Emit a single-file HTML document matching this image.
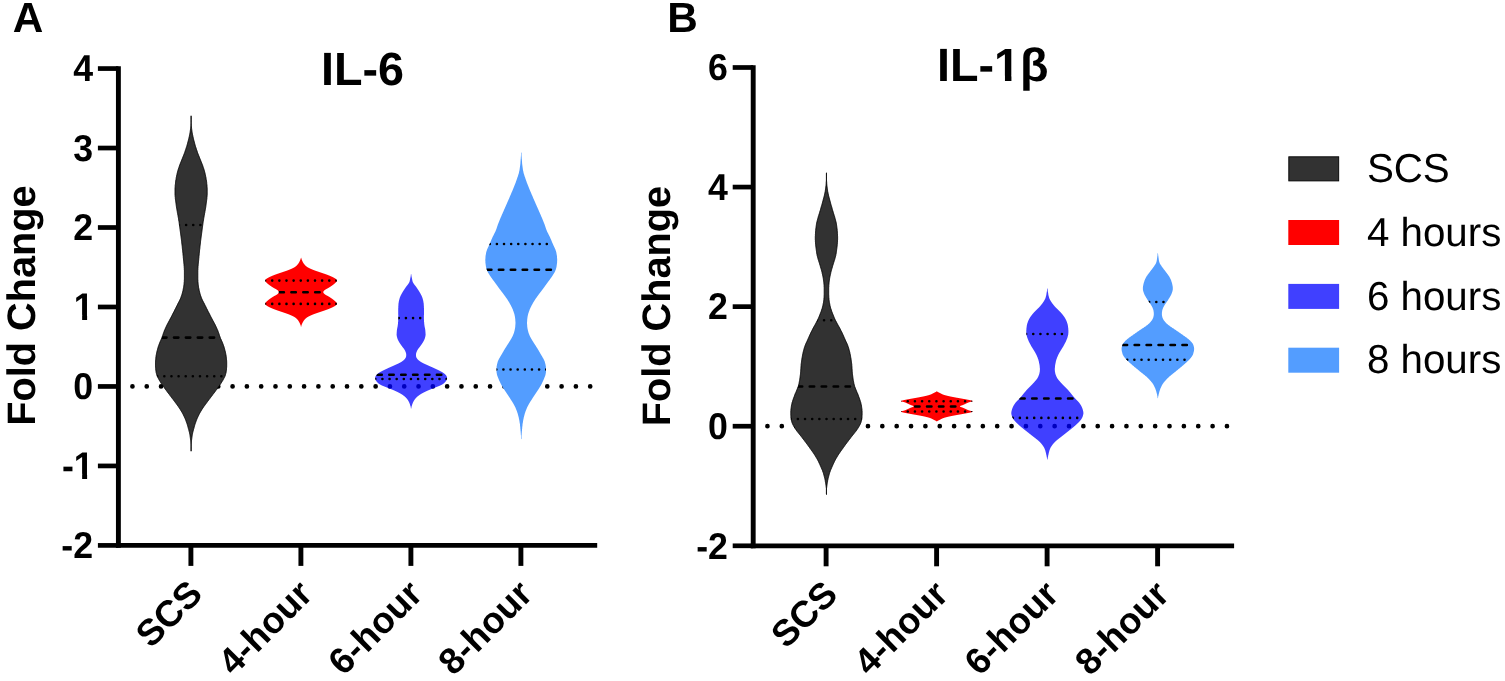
<!DOCTYPE html>
<html lang="en">
<head>
<meta charset="utf-8">
<title>IL-6 and IL-1β fold change violin plots</title>
<style>
html,body{margin:0;padding:0;background:#fff;}
body{width:1505px;height:681px;overflow:hidden;font-family:"Liberation Sans", sans-serif;}
svg{display:block;}
</style>
</head>
<body>
<svg role="img" aria-label="Violin plots of IL-6 and IL-1β fold change for SCS, 4-hour, 6-hour and 8-hour groups" width="1505" height="681" viewBox="0 0 1505 681" font-family='"Liberation Sans", sans-serif' text-rendering="geometricPrecision">
<rect width="1505" height="681" fill="#fff"/>
<g id="panelA">
<clipPath id="oneA"><path d="M-70,-45H6V-4.72H-6.91V3H-12.10V-4.72H-70Z"/></clipPath>
<line x1="132.44" y1="386.45" x2="590.7" y2="386.45" stroke="#000" stroke-width="4.7" stroke-linecap="round" stroke-dasharray="0 14.305"/>
<path id="vA1" d="M191.1,115.8L191.0,116.5L191.0,117.3L191.0,118.0L191.0,118.8L191.0,119.5L191.0,120.3L191.0,121.0L191.0,121.8L191.0,122.5L191.0,123.3L191.0,124.0L190.9,124.8L190.9,125.5L190.8,126.3L190.8,127.0L190.7,127.8L190.6,128.6L190.5,129.3L190.4,130.1L190.3,130.8L190.2,131.6L190.1,132.3L190.0,133.1L189.8,133.8L189.7,134.6L189.5,135.3L189.4,136.1L189.2,136.8L189.0,137.6L188.9,138.3L188.7,139.1L188.5,139.8L188.3,140.6L188.1,141.3L187.9,142.1L187.7,142.8L187.5,143.6L187.3,144.3L187.1,145.1L186.9,145.8L186.7,146.6L186.4,147.3L186.2,148.1L185.9,148.8L185.7,149.6L185.4,150.3L185.2,151.1L184.9,151.8L184.7,152.6L184.4,153.3L184.1,154.1L183.8,154.8L183.5,155.6L183.2,156.3L182.9,157.1L182.6,157.8L182.3,158.6L182.0,159.3L181.7,160.1L181.4,160.8L181.1,161.6L180.8,162.3L180.5,163.1L180.2,163.8L179.9,164.6L179.6,165.3L179.4,166.1L179.1,166.8L178.9,167.6L178.6,168.3L178.4,169.1L178.1,169.8L177.9,170.6L177.7,171.3L177.5,172.1L177.3,172.8L177.1,173.6L177.0,174.3L176.8,175.1L176.6,175.8L176.5,176.6L176.3,177.3L176.2,178.1L176.1,178.8L176.0,179.6L175.8,180.3L175.7,181.1L175.6,181.8L175.5,182.6L175.5,183.3L175.4,184.1L175.3,184.8L175.2,185.6L175.2,186.3L175.1,187.1L175.1,187.8L175.0,188.6L175.0,189.3L175.0,190.1L175.0,190.8L175.0,191.6L175.0,192.3L175.0,193.1L175.0,193.8L175.0,194.6L175.1,195.3L175.1,196.1L175.2,196.8L175.3,197.6L175.3,198.3L175.4,199.1L175.5,199.8L175.6,200.6L175.7,201.3L175.8,202.1L175.9,202.8L176.0,203.6L176.1,204.3L176.2,205.1L176.3,205.8L176.4,206.6L176.5,207.3L176.6,208.1L176.8,208.8L176.9,209.6L177.0,210.3L177.2,211.1L177.3,211.8L177.4,212.6L177.6,213.3L177.7,214.1L177.8,214.8L178.0,215.6L178.1,216.3L178.2,217.1L178.4,217.8L178.5,218.6L178.6,219.3L178.7,220.1L178.8,220.8L179.0,221.6L179.1,222.3L179.2,223.1L179.3,223.8L179.4,224.6L179.5,225.3L179.6,226.1L179.7,226.8L179.8,227.6L179.9,228.3L180.0,229.1L180.1,229.8L180.2,230.6L180.3,231.3L180.4,232.1L180.5,232.8L180.6,233.6L180.7,234.3L180.8,235.1L180.9,235.8L181.0,236.6L181.1,237.3L181.2,238.1L181.3,238.8L181.4,239.6L181.5,240.3L181.6,241.1L181.7,241.8L181.7,242.6L181.8,243.3L181.9,244.1L182.0,244.8L182.1,245.6L182.2,246.3L182.3,247.1L182.3,247.8L182.4,248.6L182.5,249.3L182.6,250.1L182.7,250.8L182.7,251.6L182.8,252.3L182.9,253.1L183.0,253.8L183.0,254.6L183.1,255.3L183.2,256.1L183.3,256.8L183.3,257.6L183.4,258.3L183.5,259.1L183.5,259.8L183.6,260.6L183.7,261.3L183.8,262.1L183.8,262.8L183.9,263.6L184.0,264.3L184.0,265.1L184.1,265.8L184.2,266.6L184.2,267.3L184.3,268.1L184.3,268.8L184.3,269.6L184.4,270.3L184.4,271.1L184.4,271.8L184.4,272.6L184.4,273.3L184.4,274.1L184.4,274.8L184.4,275.6L184.4,276.3L184.4,277.1L184.4,277.8L184.4,278.6L184.4,279.3L184.3,280.1L184.3,280.8L184.3,281.6L184.2,282.3L184.1,283.1L184.1,283.8L184.0,284.6L183.9,285.3L183.8,286.1L183.7,286.8L183.6,287.6L183.4,288.3L183.3,289.1L183.1,289.8L183.0,290.6L182.8,291.3L182.6,292.1L182.4,292.8L182.2,293.6L182.0,294.3L181.8,295.1L181.5,295.8L181.2,296.6L181.0,297.3L180.7,298.1L180.4,298.8L180.0,299.6L179.7,300.3L179.3,301.1L178.9,301.8L178.5,302.6L178.1,303.3L177.7,304.1L177.4,304.8L177.0,305.6L176.6,306.3L176.2,307.1L175.9,307.8L175.5,308.6L175.1,309.3L174.7,310.1L174.4,310.8L174.0,311.6L173.6,312.3L173.2,313.1L172.8,313.8L172.4,314.6L172.1,315.3L171.7,316.1L171.3,316.8L170.9,317.6L170.5,318.3L170.1,319.1L169.7,319.8L169.3,320.6L168.9,321.3L168.5,322.1L168.1,322.8L167.7,323.6L167.3,324.3L166.9,325.1L166.6,325.8L166.2,326.6L165.9,327.3L165.5,328.1L165.2,328.8L164.9,329.6L164.5,330.3L164.2,331.1L164.0,331.8L163.7,332.6L163.4,333.3L163.2,334.1L162.9,334.8L162.7,335.6L162.4,336.3L162.1,337.1L161.9,337.8L161.6,338.6L161.2,339.3L160.9,340.1L160.6,340.8L160.2,341.6L159.9,342.3L159.6,343.1L159.3,343.8L159.0,344.6L158.8,345.3L158.5,346.1L158.2,346.8L158.0,347.6L157.8,348.3L157.6,349.1L157.4,349.8L157.2,350.6L157.0,351.3L156.8,352.1L156.7,352.8L156.5,353.6L156.4,354.3L156.2,355.1L156.1,355.8L156.0,356.6L155.9,357.3L155.8,358.1L155.8,358.8L155.7,359.6L155.6,360.3L155.6,361.1L155.5,361.8L155.5,362.6L155.5,363.3L155.5,364.1L155.5,364.8L155.5,365.6L155.5,366.3L155.6,367.1L155.6,367.8L155.7,368.6L155.7,369.3L155.8,370.1L155.9,370.8L156.0,371.6L156.1,372.3L156.3,373.1L156.5,373.8L156.7,374.6L156.9,375.3L157.2,376.1L157.5,376.8L157.9,377.6L158.3,378.3L158.7,379.1L159.1,379.8L159.5,380.6L160.0,381.3L160.4,382.1L160.9,382.8L161.4,383.6L161.9,384.3L162.4,385.1L162.9,385.8L163.4,386.6L164.0,387.3L164.5,388.1L165.0,388.8L165.6,389.6L166.2,390.3L166.7,391.1L167.3,391.8L167.8,392.6L168.4,393.3L169.0,394.1L169.6,394.8L170.1,395.6L170.7,396.3L171.3,397.1L171.8,397.8L172.4,398.6L173.0,399.3L173.5,400.1L174.1,400.8L174.7,401.6L175.2,402.3L175.8,403.1L176.3,403.8L176.9,404.6L177.4,405.3L178.0,406.1L178.5,406.8L179.0,407.6L179.5,408.3L180.0,409.1L180.5,409.8L180.9,410.6L181.4,411.3L181.8,412.1L182.3,412.8L182.7,413.6L183.1,414.3L183.4,415.1L183.8,415.8L184.2,416.6L184.5,417.3L184.9,418.1L185.2,418.8L185.5,419.6L185.8,420.3L186.1,421.1L186.3,421.8L186.6,422.6L186.9,423.3L187.1,424.1L187.4,424.8L187.6,425.6L187.8,426.3L188.0,427.1L188.2,427.8L188.4,428.6L188.7,429.3L188.8,430.1L189.0,430.8L189.2,431.6L189.4,432.3L189.6,433.1L189.7,433.8L189.9,434.6L190.0,435.3L190.1,436.1L190.2,436.8L190.3,437.6L190.4,438.3L190.5,439.1L190.6,439.8L190.7,440.6L190.8,441.3L190.8,442.1L190.9,442.8L190.9,443.6L191.0,444.3L191.0,445.1L191.0,445.8L191.0,446.6L191.0,447.3L191.0,448.1L191.0,448.8L191.0,449.6L191.0,450.3L191.0,451.1L191.1,451.2L191.1,451.2L191.2,451.1L191.2,450.3L191.2,449.6L191.2,448.8L191.2,448.1L191.2,447.3L191.2,446.6L191.2,445.8L191.2,445.1L191.2,444.3L191.3,443.6L191.3,442.8L191.4,442.1L191.4,441.3L191.5,440.6L191.6,439.8L191.7,439.1L191.8,438.3L191.9,437.6L192.0,436.8L192.1,436.1L192.2,435.3L192.3,434.6L192.5,433.8L192.6,433.1L192.8,432.3L193.0,431.6L193.2,430.8L193.4,430.1L193.5,429.3L193.8,428.6L194.0,427.8L194.2,427.1L194.4,426.3L194.6,425.6L194.8,424.8L195.1,424.1L195.3,423.3L195.6,422.6L195.9,421.8L196.1,421.1L196.4,420.3L196.7,419.6L197.0,418.8L197.3,418.1L197.7,417.3L198.0,416.6L198.4,415.8L198.8,415.1L199.1,414.3L199.5,413.6L199.9,412.8L200.4,412.1L200.8,411.3L201.3,410.6L201.7,409.8L202.2,409.1L202.7,408.3L203.2,407.6L203.7,406.8L204.2,406.1L204.8,405.3L205.3,404.6L205.9,403.8L206.4,403.1L207.0,402.3L207.5,401.6L208.1,400.8L208.7,400.1L209.2,399.3L209.8,398.6L210.4,397.8L210.9,397.1L211.5,396.3L212.1,395.6L212.6,394.8L213.2,394.1L213.8,393.3L214.4,392.6L214.9,391.8L215.5,391.1L216.0,390.3L216.6,389.6L217.2,388.8L217.7,388.1L218.2,387.3L218.8,386.6L219.3,385.8L219.8,385.1L220.3,384.3L220.8,383.6L221.3,382.8L221.8,382.1L222.2,381.3L222.7,380.6L223.1,379.8L223.5,379.1L223.9,378.3L224.3,377.6L224.7,376.8L225.0,376.1L225.3,375.3L225.5,374.6L225.7,373.8L225.9,373.1L226.1,372.3L226.2,371.6L226.3,370.8L226.4,370.1L226.5,369.3L226.5,368.6L226.6,367.8L226.6,367.1L226.7,366.3L226.7,365.6L226.7,364.8L226.7,364.1L226.7,363.3L226.7,362.6L226.7,361.8L226.6,361.1L226.6,360.3L226.5,359.6L226.4,358.8L226.4,358.1L226.3,357.3L226.2,356.6L226.1,355.8L226.0,355.1L225.8,354.3L225.7,353.6L225.5,352.8L225.4,352.1L225.2,351.3L225.0,350.6L224.8,349.8L224.6,349.1L224.4,348.3L224.2,347.6L224.0,346.8L223.7,346.1L223.4,345.3L223.2,344.6L222.9,343.8L222.6,343.1L222.3,342.3L222.0,341.6L221.6,340.8L221.3,340.1L221.0,339.3L220.6,338.6L220.3,337.8L220.1,337.1L219.8,336.3L219.5,335.6L219.3,334.8L219.0,334.1L218.8,333.3L218.5,332.6L218.2,331.8L218.0,331.1L217.7,330.3L217.3,329.6L217.0,328.8L216.7,328.1L216.3,327.3L216.0,326.6L215.6,325.8L215.3,325.1L214.9,324.3L214.5,323.6L214.1,322.8L213.7,322.1L213.3,321.3L212.9,320.6L212.5,319.8L212.1,319.1L211.7,318.3L211.3,317.6L210.9,316.8L210.5,316.1L210.1,315.3L209.8,314.6L209.4,313.8L209.0,313.1L208.6,312.3L208.2,311.6L207.8,310.8L207.5,310.1L207.1,309.3L206.7,308.6L206.3,307.8L206.0,307.1L205.6,306.3L205.2,305.6L204.8,304.8L204.5,304.1L204.1,303.3L203.7,302.6L203.3,301.8L202.9,301.1L202.5,300.3L202.2,299.6L201.8,298.8L201.5,298.1L201.2,297.3L201.0,296.6L200.7,295.8L200.4,295.1L200.2,294.3L200.0,293.6L199.8,292.8L199.6,292.1L199.4,291.3L199.2,290.6L199.1,289.8L198.9,289.1L198.8,288.3L198.6,287.6L198.5,286.8L198.4,286.1L198.3,285.3L198.2,284.6L198.1,283.8L198.1,283.1L198.0,282.3L197.9,281.6L197.9,280.8L197.9,280.1L197.8,279.3L197.8,278.6L197.8,277.8L197.8,277.1L197.8,276.3L197.8,275.6L197.8,274.8L197.8,274.1L197.8,273.3L197.8,272.6L197.8,271.8L197.8,271.1L197.8,270.3L197.9,269.6L197.9,268.8L197.9,268.1L198.0,267.3L198.0,266.6L198.1,265.8L198.2,265.1L198.2,264.3L198.3,263.6L198.4,262.8L198.4,262.1L198.5,261.3L198.6,260.6L198.7,259.8L198.7,259.1L198.8,258.3L198.9,257.6L198.9,256.8L199.0,256.1L199.1,255.3L199.2,254.6L199.2,253.8L199.3,253.1L199.4,252.3L199.5,251.6L199.5,250.8L199.6,250.1L199.7,249.3L199.8,248.6L199.9,247.8L199.9,247.1L200.0,246.3L200.1,245.6L200.2,244.8L200.3,244.1L200.4,243.3L200.5,242.6L200.5,241.8L200.6,241.1L200.7,240.3L200.8,239.6L200.9,238.8L201.0,238.1L201.1,237.3L201.2,236.6L201.3,235.8L201.4,235.1L201.5,234.3L201.6,233.6L201.7,232.8L201.8,232.1L201.9,231.3L202.0,230.6L202.1,229.8L202.2,229.1L202.3,228.3L202.4,227.6L202.5,226.8L202.6,226.1L202.7,225.3L202.8,224.6L202.9,223.8L203.0,223.1L203.1,222.3L203.2,221.6L203.4,220.8L203.5,220.1L203.6,219.3L203.7,218.6L203.8,217.8L204.0,217.1L204.1,216.3L204.2,215.6L204.4,214.8L204.5,214.1L204.6,213.3L204.8,212.6L204.9,211.8L205.0,211.1L205.2,210.3L205.3,209.6L205.4,208.8L205.6,208.1L205.7,207.3L205.8,206.6L205.9,205.8L206.0,205.1L206.1,204.3L206.2,203.6L206.3,202.8L206.4,202.1L206.5,201.3L206.6,200.6L206.7,199.8L206.8,199.1L206.9,198.3L206.9,197.6L207.0,196.8L207.1,196.1L207.1,195.3L207.2,194.6L207.2,193.8L207.2,193.1L207.2,192.3L207.2,191.6L207.2,190.8L207.2,190.1L207.2,189.3L207.2,188.6L207.1,187.8L207.1,187.1L207.0,186.3L207.0,185.6L206.9,184.8L206.8,184.1L206.7,183.3L206.7,182.6L206.6,181.8L206.5,181.1L206.4,180.3L206.2,179.6L206.1,178.8L206.0,178.1L205.9,177.3L205.7,176.6L205.6,175.8L205.4,175.1L205.2,174.3L205.1,173.6L204.9,172.8L204.7,172.1L204.5,171.3L204.3,170.6L204.1,169.8L203.8,169.1L203.6,168.3L203.3,167.6L203.1,166.8L202.8,166.1L202.6,165.3L202.3,164.6L202.0,163.8L201.7,163.1L201.4,162.3L201.1,161.6L200.8,160.8L200.5,160.1L200.2,159.3L199.9,158.6L199.6,157.8L199.3,157.1L199.0,156.3L198.7,155.6L198.4,154.8L198.1,154.1L197.8,153.3L197.5,152.6L197.3,151.8L197.0,151.1L196.8,150.3L196.5,149.6L196.3,148.8L196.0,148.1L195.8,147.3L195.5,146.6L195.3,145.8L195.1,145.1L194.9,144.3L194.7,143.6L194.5,142.8L194.3,142.1L194.1,141.3L193.9,140.6L193.7,139.8L193.5,139.1L193.3,138.3L193.2,137.6L193.0,136.8L192.8,136.1L192.7,135.3L192.5,134.6L192.4,133.8L192.2,133.1L192.1,132.3L192.0,131.6L191.9,130.8L191.8,130.1L191.7,129.3L191.6,128.6L191.5,127.8L191.4,127.0L191.4,126.3L191.3,125.5L191.3,124.8L191.2,124.0L191.2,123.3L191.2,122.5L191.2,121.8L191.2,121.0L191.2,120.3L191.2,119.5L191.2,118.8L191.2,118.0L191.2,117.3L191.2,116.5L191.1,115.8Z" fill="#323232" fill-opacity="1" stroke="#000000" stroke-width="0.9" stroke-linejoin="round"/>
<clipPath id="cvA1"><use href="#vA1"/></clipPath>
<line x1="179.00" y1="224.95" x2="203.8" y2="224.95" clip-path="url(#cvA1)" stroke="#000" stroke-width="2.6" stroke-linecap="round" stroke-dasharray="0 7.13"/>
<line x1="162.10" y1="337.60" x2="219.4" y2="337.60" clip-path="url(#cvA1)" stroke="#000" stroke-width="2.6" stroke-linecap="round" stroke-dasharray="4.40 7.50"/>
<line x1="157.20" y1="376.20" x2="226.0" y2="376.20" clip-path="url(#cvA1)" stroke="#000" stroke-width="2.6" stroke-linecap="round" stroke-dasharray="0 7.13"/>
<path id="vA2" d="M301.1,257.8L300.8,258.1L300.8,258.3L300.8,258.6L300.7,258.8L300.6,259.1L300.5,259.3L300.4,259.6L300.3,259.8L300.2,260.1L300.1,260.3L300.0,260.6L299.9,260.8L299.8,261.1L299.7,261.3L299.5,261.6L299.4,261.8L299.3,262.1L299.2,262.3L299.0,262.6L298.9,262.8L298.7,263.1L298.6,263.3L298.4,263.6L298.2,263.8L298.0,264.1L297.8,264.3L297.6,264.6L297.4,264.8L297.2,265.1L297.0,265.3L296.7,265.6L296.5,265.8L296.2,266.1L295.9,266.3L295.6,266.6L295.2,266.8L294.9,267.1L294.5,267.3L294.1,267.6L293.6,267.8L293.1,268.1L292.6,268.3L292.1,268.6L291.6,268.8L291.0,269.1L290.4,269.3L289.8,269.6L289.2,269.8L288.6,270.1L287.9,270.3L287.3,270.6L286.6,270.8L285.9,271.1L285.1,271.3L284.4,271.6L283.6,271.8L282.9,272.1L282.2,272.3L281.4,272.6L280.7,272.8L279.9,273.1L279.2,273.3L278.5,273.6L277.7,273.8L277.0,274.1L276.3,274.3L275.6,274.6L274.9,274.8L274.3,275.1L273.7,275.3L273.0,275.6L272.4,275.8L271.8,276.1L271.3,276.3L270.7,276.6L270.1,276.8L269.6,277.1L269.1,277.3L268.6,277.6L268.2,277.8L267.7,278.1L267.3,278.3L266.9,278.6L266.5,278.8L266.2,279.1L265.9,279.3L265.7,279.6L265.5,279.8L265.3,280.1L265.2,280.3L265.2,280.6L265.2,280.8L265.2,281.1L265.4,281.3L265.5,281.6L265.7,281.8L265.9,282.1L266.1,282.3L266.4,282.6L266.6,282.8L266.9,283.1L267.1,283.3L267.4,283.6L267.7,283.8L268.0,284.1L268.3,284.3L268.6,284.6L269.0,284.8L269.3,285.1L269.6,285.3L270.0,285.6L270.3,285.8L270.7,286.1L271.1,286.3L271.4,286.6L271.8,286.8L272.2,287.1L272.6,287.3L273.0,287.6L273.4,287.8L273.8,288.1L274.3,288.3L274.7,288.6L275.2,288.8L275.7,289.1L276.1,289.3L276.5,289.6L276.9,289.8L277.3,290.1L277.6,290.3L277.9,290.6L278.1,290.8L278.3,291.1L278.5,291.3L278.7,291.6L278.8,291.8L278.8,292.1L278.8,292.3L278.8,292.6L278.7,292.8L278.5,293.1L278.4,293.3L278.1,293.6L277.9,293.8L277.6,294.1L277.3,294.3L277.0,294.6L276.6,294.8L276.2,295.1L275.8,295.3L275.3,295.6L274.8,295.8L274.3,296.1L273.9,296.3L273.5,296.6L273.0,296.8L272.6,297.1L272.3,297.3L271.9,297.6L271.5,297.8L271.1,298.1L270.8,298.3L270.4,298.6L270.0,298.8L269.7,299.1L269.4,299.3L269.0,299.6L268.7,299.8L268.4,300.1L268.1,300.3L267.8,300.6L267.5,300.8L267.2,301.1L266.9,301.3L266.7,301.6L266.4,301.8L266.2,302.1L265.9,302.3L265.7,302.6L265.5,302.8L265.4,303.1L265.3,303.3L265.2,303.6L265.2,303.8L265.2,304.1L265.3,304.3L265.4,304.6L265.6,304.8L265.9,305.1L266.2,305.3L266.5,305.6L266.8,305.8L267.2,306.1L267.6,306.3L268.1,306.6L268.5,306.8L269.0,307.1L269.5,307.3L270.0,307.6L270.6,307.8L271.1,308.1L271.7,308.3L272.3,308.6L272.9,308.8L273.5,309.1L274.2,309.3L274.8,309.6L275.5,309.8L276.2,310.1L276.9,310.3L277.6,310.6L278.3,310.8L279.1,311.1L279.8,311.3L280.5,311.6L281.3,311.8L282.0,312.1L282.8,312.3L283.5,312.6L284.2,312.8L285.0,313.1L285.7,313.3L286.4,313.6L287.1,313.8L287.8,314.1L288.5,314.3L289.1,314.6L289.7,314.8L290.3,315.1L290.9,315.3L291.4,315.6L292.0,315.8L292.5,316.1L293.0,316.3L293.5,316.6L294.0,316.8L294.4,317.1L294.8,317.3L295.2,317.6L295.5,317.8L295.8,318.1L296.1,318.3L296.4,318.6L296.7,318.8L296.9,319.1L297.2,319.3L297.4,319.6L297.6,319.8L297.8,320.1L298.0,320.3L298.2,320.6L298.4,320.8L298.5,321.1L298.7,321.3L298.8,321.6L299.0,321.8L299.1,322.1L299.3,322.3L299.4,322.6L299.5,322.8L299.6,323.1L299.8,323.3L299.9,323.6L300.0,323.8L300.1,324.1L300.2,324.3L300.3,324.6L300.4,324.8L300.5,325.1L300.6,325.3L300.7,325.6L300.8,325.8L300.8,326.1L300.8,326.3L300.8,326.6L301.1,326.6L301.1,326.6L301.4,326.6L301.4,326.3L301.4,326.1L301.4,325.8L301.4,325.6L301.5,325.3L301.6,325.1L301.7,324.8L301.8,324.6L301.9,324.3L302.0,324.1L302.1,323.8L302.2,323.6L302.3,323.3L302.5,323.1L302.6,322.8L302.7,322.6L302.8,322.3L303.0,322.1L303.1,321.8L303.3,321.6L303.4,321.3L303.6,321.1L303.7,320.8L303.9,320.6L304.1,320.3L304.3,320.1L304.5,319.8L304.7,319.6L304.9,319.3L305.2,319.1L305.4,318.8L305.7,318.6L306.0,318.3L306.3,318.1L306.6,317.8L306.9,317.6L307.3,317.3L307.7,317.1L308.1,316.8L308.6,316.6L309.1,316.3L309.6,316.1L310.1,315.8L310.7,315.6L311.2,315.3L311.8,315.1L312.4,314.8L313.0,314.6L313.6,314.3L314.3,314.1L315.0,313.8L315.7,313.6L316.4,313.3L317.1,313.1L317.9,312.8L318.6,312.6L319.3,312.3L320.1,312.1L320.8,311.8L321.6,311.6L322.3,311.3L323.0,311.1L323.8,310.8L324.5,310.6L325.2,310.3L325.9,310.1L326.6,309.8L327.3,309.6L327.9,309.3L328.6,309.1L329.2,308.8L329.8,308.6L330.4,308.3L331.0,308.1L331.5,307.8L332.1,307.6L332.6,307.3L333.1,307.1L333.6,306.8L334.0,306.6L334.5,306.3L334.9,306.1L335.3,305.8L335.6,305.6L335.9,305.3L336.2,305.1L336.5,304.8L336.7,304.6L336.8,304.3L336.9,304.1L336.9,303.8L336.9,303.6L336.8,303.3L336.7,303.1L336.6,302.8L336.4,302.6L336.2,302.3L335.9,302.1L335.7,301.8L335.4,301.6L335.2,301.3L334.9,301.1L334.6,300.8L334.3,300.6L334.0,300.3L333.7,300.1L333.4,299.8L333.1,299.6L332.7,299.3L332.4,299.1L332.1,298.8L331.7,298.6L331.3,298.3L331.0,298.1L330.6,297.8L330.2,297.6L329.8,297.3L329.5,297.1L329.1,296.8L328.6,296.6L328.2,296.3L327.8,296.1L327.3,295.8L326.8,295.6L326.3,295.3L325.9,295.1L325.5,294.8L325.1,294.6L324.8,294.3L324.5,294.1L324.2,293.8L324.0,293.6L323.7,293.3L323.6,293.1L323.4,292.8L323.3,292.6L323.3,292.3L323.3,292.1L323.3,291.8L323.4,291.6L323.6,291.3L323.8,291.1L324.0,290.8L324.2,290.6L324.5,290.3L324.8,290.1L325.2,289.8L325.6,289.6L326.0,289.3L326.4,289.1L326.9,288.8L327.4,288.6L327.8,288.3L328.3,288.1L328.7,287.8L329.1,287.6L329.5,287.3L329.9,287.1L330.3,286.8L330.7,286.6L331.0,286.3L331.4,286.1L331.8,285.8L332.1,285.6L332.5,285.3L332.8,285.1L333.1,284.8L333.5,284.6L333.8,284.3L334.1,284.1L334.4,283.8L334.7,283.6L335.0,283.3L335.2,283.1L335.5,282.8L335.7,282.6L336.0,282.3L336.2,282.1L336.4,281.8L336.6,281.6L336.7,281.3L336.9,281.1L336.9,280.8L336.9,280.6L336.9,280.3L336.8,280.1L336.6,279.8L336.4,279.6L336.2,279.3L335.9,279.1L335.6,278.8L335.2,278.6L334.8,278.3L334.4,278.1L333.9,277.8L333.5,277.6L333.0,277.3L332.5,277.1L332.0,276.8L331.4,276.6L330.8,276.3L330.3,276.1L329.7,275.8L329.1,275.6L328.4,275.3L327.8,275.1L327.2,274.8L326.5,274.6L325.8,274.3L325.1,274.1L324.4,273.8L323.6,273.6L322.9,273.3L322.2,273.1L321.4,272.8L320.7,272.6L319.9,272.3L319.2,272.1L318.5,271.8L317.7,271.6L317.0,271.3L316.2,271.1L315.5,270.8L314.8,270.6L314.2,270.3L313.5,270.1L312.9,269.8L312.3,269.6L311.7,269.3L311.1,269.1L310.5,268.8L310.0,268.6L309.5,268.3L309.0,268.1L308.5,267.8L308.0,267.6L307.6,267.3L307.2,267.1L306.9,266.8L306.5,266.6L306.2,266.3L305.9,266.1L305.6,265.8L305.4,265.6L305.1,265.3L304.9,265.1L304.7,264.8L304.5,264.6L304.3,264.3L304.1,264.1L303.9,263.8L303.7,263.6L303.5,263.3L303.4,263.1L303.2,262.8L303.1,262.6L302.9,262.3L302.8,262.1L302.7,261.8L302.6,261.6L302.4,261.3L302.3,261.1L302.2,260.8L302.1,260.6L302.0,260.3L301.9,260.1L301.8,259.8L301.7,259.6L301.6,259.3L301.5,259.1L301.4,258.8L301.4,258.6L301.4,258.3L301.4,258.1L301.1,257.8Z" fill="#ff0000" fill-opacity="1"/>
<clipPath id="cvA2"><use href="#vA2"/></clipPath>
<line x1="265.10" y1="280.60" x2="337.5" y2="280.60" clip-path="url(#cvA2)" stroke="#000" stroke-width="2.6" stroke-linecap="round" stroke-dasharray="0 7.13"/>
<line x1="279.50" y1="292.20" x2="322.0" y2="292.20" clip-path="url(#cvA2)" stroke="#000" stroke-width="2.6" stroke-linecap="round" stroke-dasharray="4.40 7.50"/>
<line x1="265.10" y1="303.90" x2="337.5" y2="303.90" clip-path="url(#cvA2)" stroke="#000" stroke-width="2.6" stroke-linecap="round" stroke-dasharray="0 7.13"/>
<path id="vA3" d="M411.1,274.0L410.8,274.8L410.8,275.5L410.7,276.2L410.5,277.0L410.4,277.8L410.2,278.5L410.1,279.2L409.9,280.0L409.8,280.8L409.6,281.5L409.3,282.2L408.9,283.0L408.4,283.8L407.9,284.5L407.3,285.2L406.7,286.0L406.1,286.8L405.6,287.5L405.1,288.2L404.6,289.0L404.1,289.8L403.6,290.5L403.1,291.2L402.7,292.0L402.2,292.8L401.8,293.5L401.4,294.2L401.0,295.0L400.6,295.8L400.3,296.5L400.0,297.2L399.7,298.0L399.5,298.8L399.3,299.5L399.1,300.2L398.9,301.0L398.8,301.8L398.7,302.5L398.5,303.2L398.5,304.0L398.4,304.8L398.4,305.5L398.3,306.2L398.3,307.0L398.3,307.8L398.2,308.5L398.2,309.2L398.2,310.0L398.2,310.8L398.2,311.5L398.2,312.2L398.2,313.0L398.2,313.8L398.2,314.5L398.3,315.2L398.3,316.0L398.3,316.8L398.3,317.5L398.3,318.2L398.3,319.0L398.2,319.8L398.2,320.5L398.2,321.2L398.1,322.0L398.0,322.8L398.0,323.5L397.9,324.2L397.8,325.0L397.7,325.8L397.6,326.5L397.4,327.2L397.3,328.0L397.1,328.8L397.0,329.5L396.9,330.2L396.8,331.0L396.8,331.8L396.7,332.5L396.7,333.2L396.6,334.0L396.6,334.8L396.7,335.5L396.8,336.2L397.0,337.0L397.2,337.8L397.4,338.5L397.7,339.2L398.0,340.0L398.4,340.8L398.8,341.5L399.2,342.2L399.7,343.0L400.2,343.8L400.7,344.5L401.2,345.2L401.8,346.0L402.3,346.8L402.9,347.5L403.5,348.2L404.1,349.0L404.5,349.8L405.0,350.5L405.3,351.2L405.6,352.0L405.9,352.8L406.1,353.5L406.2,354.2L406.2,355.0L406.2,355.8L406.1,356.5L405.9,357.2L405.5,358.0L405.0,358.8L404.4,359.5L403.6,360.2L402.6,361.0L401.6,361.8L400.3,362.5L398.9,363.2L397.3,364.0L395.6,364.8L394.0,365.5L392.3,366.2L390.6,367.0L388.9,367.8L387.3,368.5L385.7,369.2L384.1,370.0L382.6,370.8L381.2,371.5L379.8,372.2L378.7,373.0L377.7,373.8L376.9,374.5L376.2,375.2L375.7,376.0L375.4,376.8L375.2,377.5L375.1,378.2L375.3,379.0L375.5,379.8L375.9,380.5L376.4,381.2L377.0,382.0L377.7,382.8L378.5,383.5L379.6,384.2L380.9,385.0L382.5,385.8L384.4,386.5L386.3,387.2L388.2,388.0L390.1,388.8L391.9,389.5L393.7,390.2L395.4,391.0L397.0,391.8L398.5,392.5L399.9,393.2L401.2,394.0L402.4,394.8L403.4,395.5L404.4,396.2L405.3,397.0L406.0,397.8L406.7,398.5L407.3,399.2L407.8,400.0L408.3,400.8L408.7,401.5L409.1,402.2L409.4,403.0L409.7,403.8L410.0,404.5L410.2,405.2L410.4,406.0L410.7,406.8L410.8,407.5L410.8,408.2L411.1,408.4L411.1,408.4L411.4,408.2L411.4,407.5L411.5,406.8L411.8,406.0L412.0,405.2L412.2,404.5L412.5,403.8L412.8,403.0L413.1,402.2L413.5,401.5L413.9,400.8L414.4,400.0L414.9,399.2L415.5,398.5L416.2,397.8L416.9,397.0L417.8,396.2L418.8,395.5L419.8,394.8L421.0,394.0L422.3,393.2L423.7,392.5L425.2,391.8L426.8,391.0L428.5,390.2L430.3,389.5L432.1,388.8L434.0,388.0L435.9,387.2L437.8,386.5L439.7,385.8L441.3,385.0L442.6,384.2L443.7,383.5L444.5,382.8L445.2,382.0L445.8,381.2L446.3,380.5L446.7,379.8L446.9,379.0L447.1,378.2L447.0,377.5L446.8,376.8L446.5,376.0L446.0,375.2L445.3,374.5L444.5,373.8L443.5,373.0L442.4,372.2L441.0,371.5L439.6,370.8L438.1,370.0L436.5,369.2L434.9,368.5L433.3,367.8L431.6,367.0L429.9,366.2L428.2,365.5L426.6,364.8L424.9,364.0L423.3,363.2L421.9,362.5L420.6,361.8L419.6,361.0L418.6,360.2L417.8,359.5L417.2,358.8L416.7,358.0L416.3,357.2L416.1,356.5L416.0,355.8L416.0,355.0L416.0,354.2L416.1,353.5L416.3,352.8L416.6,352.0L416.9,351.2L417.2,350.5L417.7,349.8L418.1,349.0L418.7,348.2L419.3,347.5L419.9,346.8L420.4,346.0L421.0,345.2L421.5,344.5L422.0,343.8L422.5,343.0L423.0,342.2L423.4,341.5L423.8,340.8L424.2,340.0L424.5,339.2L424.8,338.5L425.0,337.8L425.2,337.0L425.4,336.2L425.5,335.5L425.6,334.8L425.6,334.0L425.5,333.2L425.5,332.5L425.4,331.8L425.4,331.0L425.3,330.2L425.2,329.5L425.1,328.8L424.9,328.0L424.8,327.2L424.6,326.5L424.5,325.8L424.4,325.0L424.3,324.2L424.2,323.5L424.2,322.8L424.1,322.0L424.0,321.2L424.0,320.5L424.0,319.8L423.9,319.0L423.9,318.2L423.9,317.5L423.9,316.8L423.9,316.0L423.9,315.2L424.0,314.5L424.0,313.8L424.0,313.0L424.0,312.2L424.0,311.5L424.0,310.8L424.0,310.0L424.0,309.2L424.0,308.5L423.9,307.8L423.9,307.0L423.9,306.2L423.8,305.5L423.8,304.8L423.7,304.0L423.7,303.2L423.5,302.5L423.4,301.8L423.3,301.0L423.1,300.2L422.9,299.5L422.7,298.8L422.5,298.0L422.2,297.2L421.9,296.5L421.6,295.8L421.2,295.0L420.8,294.2L420.4,293.5L420.0,292.8L419.5,292.0L419.1,291.2L418.6,290.5L418.1,289.8L417.6,289.0L417.1,288.2L416.6,287.5L416.1,286.8L415.5,286.0L414.9,285.2L414.3,284.5L413.8,283.8L413.3,283.0L412.9,282.2L412.6,281.5L412.4,280.8L412.3,280.0L412.1,279.2L412.0,278.5L411.8,277.8L411.7,277.0L411.5,276.2L411.4,275.5L411.4,274.8L411.1,274.0Z" fill="#0000ff" fill-opacity="0.75"/>
<clipPath id="cvA3"><use href="#vA3"/></clipPath>
<line x1="398.80" y1="318.10" x2="424.5" y2="318.10" clip-path="url(#cvA3)" stroke="#000" stroke-width="2.6" stroke-linecap="round" stroke-dasharray="0 7.13"/>
<line x1="377.40" y1="374.70" x2="444.2" y2="374.70" clip-path="url(#cvA3)" stroke="#000" stroke-width="2.6" stroke-linecap="round" stroke-dasharray="4.40 7.50"/>
<line x1="375.30" y1="379.00" x2="447.5" y2="379.00" clip-path="url(#cvA3)" stroke="#000" stroke-width="2.6" stroke-linecap="round" stroke-dasharray="0 7.13"/>
<path id="vA4" d="M521.2,152.2L521.0,152.9L521.0,153.7L521.0,154.4L521.0,155.2L520.9,155.9L520.9,156.7L520.8,157.4L520.8,158.2L520.7,158.9L520.6,159.7L520.6,160.4L520.5,161.2L520.5,161.9L520.4,162.7L520.4,163.4L520.3,164.2L520.2,164.9L520.1,165.7L520.0,166.4L519.9,167.2L519.8,167.9L519.7,168.7L519.6,169.4L519.5,170.2L519.3,170.9L519.1,171.7L519.0,172.4L518.8,173.2L518.6,173.9L518.3,174.7L518.1,175.4L517.9,176.2L517.6,176.9L517.3,177.7L517.1,178.4L516.8,179.2L516.6,179.9L516.3,180.7L516.0,181.4L515.8,182.2L515.5,182.9L515.2,183.7L514.9,184.4L514.6,185.2L514.3,185.9L514.0,186.7L513.7,187.4L513.4,188.2L513.1,188.9L512.8,189.7L512.5,190.4L512.2,191.2L511.8,191.9L511.5,192.7L511.2,193.4L510.9,194.2L510.6,194.9L510.2,195.7L509.9,196.4L509.6,197.2L509.3,197.9L509.0,198.7L508.6,199.4L508.3,200.2L508.0,200.9L507.6,201.7L507.3,202.4L507.0,203.2L506.7,203.9L506.3,204.7L506.0,205.4L505.7,206.2L505.3,206.9L505.0,207.7L504.7,208.4L504.3,209.2L504.0,209.9L503.7,210.7L503.4,211.4L503.0,212.2L502.7,212.9L502.4,213.7L502.0,214.4L501.7,215.2L501.4,215.9L501.1,216.7L500.7,217.4L500.4,218.2L500.1,218.9L499.8,219.7L499.5,220.4L499.2,221.2L498.9,221.9L498.6,222.7L498.3,223.4L498.0,224.2L497.7,224.9L497.5,225.7L497.2,226.4L497.0,227.2L496.7,227.9L496.5,228.7L496.2,229.4L495.9,230.2L495.6,230.9L495.3,231.7L494.9,232.4L494.5,233.2L494.1,233.9L493.8,234.7L493.4,235.4L493.0,236.2L492.6,236.9L492.3,237.7L492.0,238.4L491.6,239.2L491.3,239.9L491.0,240.7L490.7,241.4L490.4,242.2L490.1,242.9L489.7,243.7L489.4,244.4L489.1,245.2L488.7,245.9L488.4,246.7L488.0,247.4L487.7,248.2L487.3,248.9L487.0,249.7L486.8,250.4L486.5,251.2L486.3,251.9L486.1,252.7L486.0,253.4L485.9,254.2L485.7,254.9L485.6,255.7L485.5,256.4L485.5,257.2L485.4,257.9L485.4,258.7L485.3,259.4L485.3,260.2L485.4,260.9L485.4,261.7L485.4,262.4L485.5,263.2L485.6,263.9L485.7,264.7L485.8,265.4L485.9,266.2L486.0,266.9L486.2,267.7L486.4,268.4L486.6,269.2L486.9,269.9L487.2,270.7L487.5,271.4L487.9,272.2L488.3,272.9L488.8,273.7L489.3,274.4L489.7,275.2L490.2,275.9L490.7,276.7L491.2,277.4L491.8,278.2L492.3,278.9L492.8,279.7L493.4,280.4L494.0,281.2L494.5,281.9L495.1,282.7L495.6,283.4L496.2,284.2L496.7,284.9L497.3,285.7L497.8,286.4L498.3,287.2L498.9,287.9L499.4,288.7L500.0,289.4L500.6,290.2L501.1,290.9L501.7,291.7L502.3,292.4L502.9,293.2L503.4,293.9L504.0,294.7L504.5,295.4L505.1,296.2L505.6,296.9L506.1,297.7L506.7,298.4L507.2,299.2L507.7,299.9L508.1,300.7L508.6,301.4L509.1,302.2L509.5,302.9L509.9,303.7L510.3,304.4L510.8,305.2L511.1,305.9L511.5,306.7L511.9,307.4L512.2,308.2L512.6,308.9L512.9,309.7L513.1,310.4L513.4,311.2L513.7,311.9L513.9,312.7L514.2,313.4L514.4,314.2L514.6,314.9L514.7,315.7L514.9,316.4L515.0,317.2L515.1,317.9L515.2,318.7L515.3,319.4L515.3,320.2L515.4,320.9L515.4,321.7L515.5,322.4L515.5,323.2L515.4,323.9L515.4,324.7L515.3,325.4L515.3,326.2L515.2,326.9L515.1,327.7L515.0,328.4L514.8,329.2L514.7,329.9L514.5,330.7L514.3,331.4L514.1,332.2L513.9,332.9L513.6,333.7L513.3,334.4L513.0,335.2L512.7,335.9L512.3,336.7L511.9,337.4L511.5,338.2L511.1,338.9L510.6,339.7L510.2,340.4L509.7,341.2L509.2,341.9L508.8,342.7L508.3,343.4L507.8,344.2L507.3,344.9L506.8,345.7L506.4,346.4L505.9,347.2L505.4,347.9L504.9,348.7L504.5,349.4L504.0,350.2L503.6,350.9L503.2,351.7L502.7,352.4L502.3,353.2L501.9,353.9L501.4,354.7L501.0,355.4L500.5,356.2L500.1,356.9L499.7,357.7L499.2,358.4L498.8,359.2L498.5,359.9L498.1,360.7L497.8,361.4L497.6,362.2L497.4,362.9L497.2,363.7L497.0,364.4L496.9,365.2L496.7,365.9L496.6,366.7L496.6,367.4L496.5,368.2L496.5,368.9L496.5,369.7L496.5,370.4L496.5,371.2L496.6,371.9L496.6,372.7L496.8,373.4L496.9,374.2L497.1,374.9L497.3,375.7L497.6,376.4L497.9,377.2L498.2,377.9L498.5,378.7L498.8,379.4L499.1,380.2L499.5,380.9L499.8,381.7L500.2,382.4L500.5,383.2L500.9,383.9L501.3,384.7L501.7,385.4L502.2,386.2L502.6,386.9L503.1,387.7L503.5,388.4L504.0,389.2L504.5,389.9L505.0,390.7L505.5,391.4L506.0,392.2L506.5,392.9L507.0,393.7L507.5,394.4L508.0,395.2L508.5,395.9L509.0,396.7L509.5,397.4L510.0,398.2L510.4,398.9L510.9,399.7L511.4,400.4L511.9,401.2L512.4,401.9L512.8,402.7L513.3,403.4L513.7,404.2L514.1,404.9L514.5,405.7L514.9,406.4L515.3,407.2L515.6,407.9L515.9,408.7L516.2,409.4L516.5,410.2L516.8,410.9L517.1,411.7L517.3,412.4L517.6,413.2L517.8,413.9L518.0,414.7L518.2,415.4L518.4,416.2L518.6,416.9L518.8,417.7L518.9,418.4L519.1,419.2L519.2,419.9L519.4,420.7L519.5,421.4L519.6,422.2L519.7,422.9L519.9,423.7L520.0,424.4L520.0,425.2L520.1,425.9L520.2,426.7L520.3,427.4L520.3,428.2L520.4,428.9L520.5,429.7L520.5,430.4L520.6,431.2L520.7,431.9L520.7,432.7L520.8,433.4L520.8,434.2L520.9,434.9L521.0,435.7L521.0,436.4L521.0,437.2L521.0,437.9L521.0,438.7L521.2,439.3L521.2,439.3L521.5,438.7L521.5,437.9L521.5,437.2L521.5,436.4L521.5,435.7L521.6,434.9L521.7,434.2L521.7,433.4L521.8,432.7L521.8,431.9L521.9,431.2L522.0,430.4L522.0,429.7L522.1,428.9L522.2,428.2L522.2,427.4L522.3,426.7L522.4,425.9L522.5,425.2L522.5,424.4L522.6,423.7L522.8,422.9L522.9,422.2L523.0,421.4L523.1,420.7L523.3,419.9L523.4,419.2L523.6,418.4L523.7,417.7L523.9,416.9L524.1,416.2L524.3,415.4L524.5,414.7L524.7,413.9L524.9,413.2L525.2,412.4L525.4,411.7L525.7,410.9L526.0,410.2L526.3,409.4L526.6,408.7L526.9,407.9L527.2,407.2L527.6,406.4L528.0,405.7L528.4,404.9L528.8,404.2L529.2,403.4L529.7,402.7L530.1,401.9L530.6,401.2L531.1,400.4L531.6,399.7L532.1,398.9L532.5,398.2L533.0,397.4L533.5,396.7L534.0,395.9L534.5,395.2L535.0,394.4L535.5,393.7L536.0,392.9L536.5,392.2L537.0,391.4L537.5,390.7L538.0,389.9L538.5,389.2L539.0,388.4L539.4,387.7L539.9,386.9L540.3,386.2L540.8,385.4L541.2,384.7L541.6,383.9L542.0,383.2L542.3,382.4L542.7,381.7L543.0,380.9L543.4,380.2L543.7,379.4L544.0,378.7L544.3,377.9L544.6,377.2L544.9,376.4L545.2,375.7L545.4,374.9L545.6,374.2L545.7,373.4L545.9,372.7L545.9,371.9L546.0,371.2L546.0,370.4L546.0,369.7L546.0,368.9L546.0,368.2L545.9,367.4L545.9,366.7L545.8,365.9L545.6,365.2L545.5,364.4L545.3,363.7L545.1,362.9L544.9,362.2L544.7,361.4L544.4,360.7L544.0,359.9L543.7,359.2L543.3,358.4L542.8,357.7L542.4,356.9L542.0,356.2L541.5,355.4L541.1,354.7L540.6,353.9L540.2,353.2L539.8,352.4L539.3,351.7L538.9,350.9L538.5,350.2L538.0,349.4L537.6,348.7L537.1,347.9L536.6,347.2L536.1,346.4L535.7,345.7L535.2,344.9L534.7,344.2L534.2,343.4L533.7,342.7L533.3,341.9L532.8,341.2L532.3,340.4L531.9,339.7L531.4,338.9L531.0,338.2L530.6,337.4L530.2,336.7L529.8,335.9L529.5,335.2L529.2,334.4L528.9,333.7L528.6,332.9L528.4,332.2L528.2,331.4L528.0,330.7L527.8,329.9L527.7,329.2L527.5,328.4L527.4,327.7L527.3,326.9L527.2,326.2L527.2,325.4L527.1,324.7L527.1,323.9L527.0,323.2L527.0,322.4L527.1,321.7L527.1,320.9L527.2,320.2L527.2,319.4L527.3,318.7L527.4,317.9L527.5,317.2L527.6,316.4L527.8,315.7L527.9,314.9L528.1,314.2L528.3,313.4L528.6,312.7L528.8,311.9L529.1,311.2L529.4,310.4L529.6,309.7L529.9,308.9L530.3,308.2L530.6,307.4L531.0,306.7L531.4,305.9L531.7,305.2L532.2,304.4L532.6,303.7L533.0,302.9L533.4,302.2L533.9,301.4L534.4,300.7L534.8,299.9L535.3,299.2L535.8,298.4L536.4,297.7L536.9,296.9L537.4,296.2L538.0,295.4L538.5,294.7L539.1,293.9L539.6,293.2L540.2,292.4L540.8,291.7L541.4,290.9L541.9,290.2L542.5,289.4L543.1,288.7L543.6,287.9L544.2,287.2L544.7,286.4L545.2,285.7L545.8,284.9L546.3,284.2L546.9,283.4L547.4,282.7L548.0,281.9L548.5,281.2L549.1,280.4L549.7,279.7L550.2,278.9L550.7,278.2L551.3,277.4L551.8,276.7L552.3,275.9L552.8,275.2L553.2,274.4L553.7,273.7L554.2,272.9L554.6,272.2L555.0,271.4L555.3,270.7L555.6,269.9L555.9,269.2L556.1,268.4L556.3,267.7L556.5,266.9L556.6,266.2L556.7,265.4L556.8,264.7L556.9,263.9L557.0,263.2L557.1,262.4L557.1,261.7L557.1,260.9L557.2,260.2L557.2,259.4L557.1,258.7L557.1,257.9L557.0,257.2L557.0,256.4L556.9,255.7L556.8,254.9L556.6,254.2L556.5,253.4L556.4,252.7L556.2,251.9L556.0,251.2L555.7,250.4L555.5,249.7L555.2,248.9L554.8,248.2L554.5,247.4L554.1,246.7L553.8,245.9L553.4,245.2L553.1,244.4L552.8,243.7L552.4,242.9L552.1,242.2L551.8,241.4L551.5,240.7L551.2,239.9L550.9,239.2L550.5,238.4L550.2,237.7L549.9,236.9L549.5,236.2L549.1,235.4L548.7,234.7L548.4,233.9L548.0,233.2L547.6,232.4L547.2,231.7L546.9,230.9L546.6,230.2L546.3,229.4L546.0,228.7L545.8,227.9L545.5,227.2L545.3,226.4L545.0,225.7L544.8,224.9L544.5,224.2L544.2,223.4L543.9,222.7L543.6,221.9L543.3,221.2L543.0,220.4L542.7,219.7L542.4,218.9L542.1,218.2L541.8,217.4L541.4,216.7L541.1,215.9L540.8,215.2L540.5,214.4L540.1,213.7L539.8,212.9L539.5,212.2L539.1,211.4L538.8,210.7L538.5,209.9L538.2,209.2L537.8,208.4L537.5,207.7L537.2,206.9L536.8,206.2L536.5,205.4L536.2,204.7L535.8,203.9L535.5,203.2L535.2,202.4L534.9,201.7L534.5,200.9L534.2,200.2L533.9,199.4L533.5,198.7L533.2,197.9L532.9,197.2L532.6,196.4L532.3,195.7L531.9,194.9L531.6,194.2L531.3,193.4L531.0,192.7L530.7,191.9L530.3,191.2L530.0,190.4L529.7,189.7L529.4,188.9L529.1,188.2L528.8,187.4L528.5,186.7L528.2,185.9L527.9,185.2L527.6,184.4L527.3,183.7L527.0,182.9L526.7,182.2L526.5,181.4L526.2,180.7L525.9,179.9L525.7,179.2L525.4,178.4L525.2,177.7L524.9,176.9L524.6,176.2L524.4,175.4L524.2,174.7L523.9,173.9L523.7,173.2L523.5,172.4L523.4,171.7L523.2,170.9L523.0,170.2L522.9,169.4L522.8,168.7L522.7,167.9L522.6,167.2L522.5,166.4L522.4,165.7L522.3,164.9L522.2,164.2L522.1,163.4L522.1,162.7L522.0,161.9L522.0,161.2L521.9,160.4L521.9,159.7L521.8,158.9L521.7,158.2L521.7,157.4L521.6,156.7L521.6,155.9L521.5,155.2L521.5,154.4L521.5,153.7L521.5,152.9L521.2,152.2Z" fill="#539dff" fill-opacity="1"/>
<clipPath id="cvA4"><use href="#vA4"/></clipPath>
<line x1="489.76" y1="243.95" x2="553.5" y2="243.95" clip-path="url(#cvA4)" stroke="#000" stroke-width="2.6" stroke-linecap="round" stroke-dasharray="0 7.13"/>
<line x1="487.00" y1="269.80" x2="554.3" y2="269.80" clip-path="url(#cvA4)" stroke="#000" stroke-width="2.6" stroke-linecap="round" stroke-dasharray="4.40 7.50"/>
<line x1="496.30" y1="369.50" x2="546.6" y2="369.50" clip-path="url(#cvA4)" stroke="#000" stroke-width="2.6" stroke-linecap="round" stroke-dasharray="0 7.13"/>
<path d="M118.4,66.21V547.75" stroke="#000" stroke-width="4.9" fill="none"/>
<path d="M115.95,545.40H597.2" stroke="#000" stroke-width="4.7" fill="none"/>
<path d="M97.90,68.56H118.4" stroke="#000" stroke-width="4.7" fill="none"/>
<text transform="translate(93.1,81.3) scale(0.955,1)" font-size="37.4" font-weight="bold" text-anchor="end">4</text>
<path d="M97.90,148.03H118.4" stroke="#000" stroke-width="4.7" fill="none"/>
<text transform="translate(93.1,160.7) scale(0.955,1)" font-size="37.4" font-weight="bold" text-anchor="end">3</text>
<path d="M97.90,227.51H118.4" stroke="#000" stroke-width="4.7" fill="none"/>
<text transform="translate(93.1,240.2) scale(0.955,1)" font-size="37.4" font-weight="bold" text-anchor="end">2</text>
<path d="M97.90,306.98H118.4" stroke="#000" stroke-width="4.7" fill="none"/>
<text transform="translate(93.7,319.7) scale(0.955,1.035)" font-size="37.4" font-weight="bold" text-anchor="end" clip-path="url(#oneA)">1</text>
<path d="M97.90,386.45H118.4" stroke="#000" stroke-width="4.7" fill="none"/>
<text transform="translate(93.1,399.2) scale(0.955,1)" font-size="37.4" font-weight="bold" text-anchor="end">0</text>
<path d="M97.90,465.93H118.4" stroke="#000" stroke-width="4.7" fill="none"/>
<text transform="translate(93.7,478.6) scale(0.955,1.035)" font-size="37.4" font-weight="bold" text-anchor="end" clip-path="url(#oneA)">-1</text>
<path d="M97.90,545.40H118.4" stroke="#000" stroke-width="4.7" fill="none"/>
<text transform="translate(93.1,558.1) scale(0.955,1)" font-size="37.4" font-weight="bold" text-anchor="end">-2</text>
<path d="M190.9,545.4V565.90" stroke="#000" stroke-width="4.9" fill="none"/>
<text transform="translate(204.3,596.0) rotate(-45)" font-size="36.7" font-weight="bold" text-anchor="end">SCS</text>
<path d="M300.9,545.4V565.90" stroke="#000" stroke-width="4.9" fill="none"/>
<text transform="translate(314.3,596.0) rotate(-45)" font-size="36.7" font-weight="bold" text-anchor="end">4-hour</text>
<path d="M410.9,545.4V565.90" stroke="#000" stroke-width="4.9" fill="none"/>
<text transform="translate(424.3,596.0) rotate(-45)" font-size="36.7" font-weight="bold" text-anchor="end">6-hour</text>
<path d="M520.9,545.4V565.90" stroke="#000" stroke-width="4.9" fill="none"/>
<text transform="translate(534.3,596.0) rotate(-45)" font-size="36.7" font-weight="bold" text-anchor="end">8-hour</text>
<text transform="translate(362.5,84.7)" font-size="46.7" font-weight="bold" text-anchor="middle">IL-6</text>
<text transform="translate(35.3,305.6) rotate(-90)" font-size="39.7" font-weight="bold" text-anchor="middle">Fold Change</text>
<text x="12.8" y="32.4" font-size="42.3" font-weight="bold">A</text>
</g>
<g id="panelB">
<clipPath id="oneB"><path d="M-70,-45H6V-4.72H-6.91V3H-12.10V-4.72H-70Z"/></clipPath>
<clipPath id="toneB"><path d="M-90,-50H90V20H27.86V-5.67H18.63V20H12.16V-5.67H0.79V20H-90Z"/></clipPath>
<line x1="767.44" y1="426.22" x2="1227.5" y2="426.22" stroke="#000" stroke-width="4.7" stroke-linecap="round" stroke-dasharray="0 14.36"/>
<path id="vB1" d="M826.5,172.8L826.4,173.6L826.4,174.3L826.4,175.1L826.4,175.8L826.4,176.6L826.4,177.3L826.4,178.1L826.4,178.8L826.4,179.6L826.4,180.3L826.3,181.1L826.3,181.8L826.2,182.6L826.2,183.3L826.1,184.1L826.1,184.8L826.0,185.6L825.9,186.3L825.8,187.1L825.7,187.8L825.6,188.6L825.5,189.3L825.4,190.1L825.3,190.8L825.2,191.6L825.0,192.3L824.9,193.1L824.7,193.8L824.5,194.6L824.4,195.3L824.2,196.1L824.0,196.8L823.8,197.6L823.6,198.3L823.4,199.1L823.2,199.8L823.0,200.6L822.8,201.3L822.6,202.1L822.4,202.8L822.2,203.6L822.0,204.3L821.8,205.1L821.6,205.8L821.3,206.6L821.1,207.3L820.9,208.1L820.7,208.8L820.5,209.6L820.3,210.3L820.0,211.1L819.8,211.8L819.6,212.6L819.4,213.3L819.1,214.1L818.9,214.8L818.7,215.6L818.4,216.3L818.2,217.1L818.0,217.8L817.8,218.6L817.6,219.3L817.4,220.1L817.2,220.8L817.0,221.6L816.8,222.3L816.7,223.1L816.5,223.8L816.4,224.6L816.3,225.3L816.2,226.1L816.1,226.8L816.0,227.6L815.9,228.3L815.8,229.1L815.7,229.8L815.7,230.6L815.6,231.3L815.5,232.1L815.5,232.8L815.5,233.6L815.4,234.3L815.4,235.1L815.4,235.8L815.3,236.6L815.3,237.3L815.3,238.1L815.3,238.8L815.3,239.6L815.4,240.3L815.4,241.1L815.4,241.8L815.5,242.6L815.5,243.3L815.6,244.1L815.7,244.8L815.7,245.6L815.8,246.3L815.9,247.1L816.0,247.8L816.1,248.6L816.2,249.3L816.3,250.1L816.4,250.8L816.5,251.6L816.6,252.3L816.7,253.1L816.8,253.8L817.0,254.6L817.1,255.3L817.3,256.1L817.5,256.8L817.7,257.6L817.9,258.3L818.1,259.1L818.3,259.8L818.6,260.6L818.8,261.3L819.0,262.1L819.3,262.8L819.5,263.6L819.7,264.3L820.0,265.1L820.2,265.8L820.4,266.6L820.6,267.3L820.8,268.1L821.1,268.8L821.3,269.6L821.5,270.3L821.7,271.1L821.9,271.8L822.1,272.6L822.2,273.3L822.4,274.1L822.6,274.8L822.7,275.6L822.9,276.3L823.0,277.1L823.2,277.8L823.3,278.6L823.4,279.3L823.5,280.1L823.6,280.8L823.7,281.6L823.8,282.3L823.9,283.1L823.9,283.8L824.0,284.6L824.1,285.3L824.1,286.1L824.1,286.8L824.2,287.6L824.2,288.3L824.2,289.1L824.2,289.8L824.2,290.6L824.2,291.3L824.2,292.1L824.2,292.8L824.2,293.6L824.2,294.3L824.2,295.1L824.1,295.8L824.1,296.6L824.1,297.3L824.0,298.1L823.9,298.8L823.9,299.6L823.8,300.3L823.7,301.1L823.6,301.8L823.5,302.6L823.3,303.3L823.2,304.1L823.0,304.8L822.9,305.6L822.7,306.3L822.5,307.1L822.3,307.8L822.1,308.6L821.8,309.3L821.6,310.1L821.3,310.8L821.1,311.6L820.8,312.3L820.5,313.1L820.2,313.8L819.9,314.6L819.6,315.3L819.3,316.1L819.0,316.8L818.7,317.6L818.4,318.3L818.0,319.1L817.7,319.8L817.3,320.6L816.9,321.3L816.5,322.1L816.1,322.8L815.7,323.6L815.3,324.3L814.9,325.1L814.5,325.8L814.0,326.6L813.6,327.3L813.2,328.1L812.8,328.8L812.4,329.6L812.1,330.3L811.7,331.1L811.3,331.8L810.9,332.6L810.6,333.3L810.2,334.1L809.9,334.8L809.5,335.6L809.2,336.3L808.9,337.1L808.6,337.8L808.2,338.6L807.9,339.3L807.6,340.1L807.2,340.8L806.9,341.6L806.5,342.3L806.2,343.1L805.8,343.8L805.5,344.6L805.2,345.3L805.0,346.1L804.7,346.8L804.4,347.6L804.2,348.3L804.0,349.1L803.8,349.8L803.6,350.6L803.4,351.3L803.2,352.1L803.0,352.8L802.9,353.6L802.7,354.3L802.6,355.1L802.4,355.8L802.3,356.6L802.2,357.3L802.0,358.1L801.9,358.8L801.8,359.6L801.7,360.3L801.6,361.1L801.5,361.8L801.4,362.6L801.3,363.3L801.2,364.1L801.1,364.8L801.1,365.6L801.0,366.3L801.0,367.1L800.9,367.8L800.9,368.6L800.8,369.3L800.8,370.1L800.7,370.8L800.7,371.6L800.6,372.3L800.6,373.1L800.5,373.8L800.4,374.6L800.3,375.3L800.2,376.1L800.1,376.8L800.0,377.6L799.9,378.3L799.8,379.1L799.7,379.8L799.6,380.6L799.4,381.3L799.3,382.1L799.1,382.8L799.0,383.6L798.8,384.3L798.6,385.1L798.4,385.8L798.2,386.6L797.9,387.3L797.6,388.1L797.3,388.8L797.0,389.6L796.7,390.3L796.4,391.1L796.1,391.8L795.8,392.6L795.4,393.3L795.1,394.1L794.8,394.8L794.5,395.6L794.3,396.3L794.0,397.1L793.7,397.8L793.4,398.6L793.2,399.3L792.9,400.1L792.7,400.8L792.5,401.6L792.2,402.3L792.0,403.1L791.9,403.8L791.7,404.6L791.5,405.3L791.4,406.1L791.3,406.8L791.2,407.6L791.1,408.3L791.0,409.1L790.9,409.8L790.9,410.6L790.8,411.3L790.8,412.1L790.8,412.8L790.8,413.6L790.8,414.3L790.8,415.1L790.9,415.8L790.9,416.6L790.9,417.3L791.0,418.1L791.1,418.8L791.2,419.6L791.4,420.3L791.6,421.1L791.8,421.8L792.0,422.6L792.3,423.3L792.6,424.1L793.0,424.8L793.4,425.6L793.8,426.3L794.3,427.1L794.7,427.8L795.2,428.6L795.7,429.3L796.2,430.1L796.7,430.8L797.3,431.6L797.9,432.3L798.5,433.1L799.1,433.8L799.7,434.6L800.3,435.3L800.9,436.1L801.5,436.8L802.1,437.6L802.6,438.3L803.2,439.1L803.8,439.8L804.4,440.6L804.9,441.3L805.5,442.1L806.1,442.8L806.6,443.6L807.2,444.3L807.7,445.1L808.3,445.8L808.8,446.6L809.4,447.3L809.9,448.1L810.4,448.8L811.0,449.6L811.5,450.3L812.0,451.1L812.6,451.8L813.1,452.6L813.6,453.3L814.1,454.1L814.6,454.8L815.1,455.6L815.5,456.3L816.0,457.1L816.4,457.8L816.9,458.6L817.3,459.3L817.7,460.1L818.1,460.8L818.5,461.6L818.8,462.3L819.2,463.1L819.5,463.8L819.9,464.6L820.2,465.3L820.5,466.1L820.9,466.8L821.2,467.6L821.5,468.3L821.8,469.1L822.2,469.8L822.5,470.6L822.7,471.3L823.0,472.1L823.3,472.8L823.5,473.6L823.7,474.3L823.9,475.1L824.1,475.8L824.3,476.6L824.5,477.3L824.7,478.1L824.9,478.8L825.0,479.6L825.2,480.3L825.3,481.1L825.4,481.8L825.6,482.6L825.7,483.3L825.8,484.1L825.9,484.8L826.0,485.6L826.1,486.3L826.2,487.1L826.3,487.8L826.4,488.6L826.4,489.3L826.4,490.1L826.4,490.8L826.4,491.6L826.4,492.3L826.4,493.1L826.4,493.8L826.5,494.5L826.5,494.5L826.5,493.8L826.5,493.1L826.5,492.3L826.5,491.6L826.5,490.8L826.5,490.1L826.5,489.3L826.5,488.6L826.6,487.8L826.7,487.1L826.8,486.3L826.9,485.6L827.0,484.8L827.1,484.1L827.2,483.3L827.3,482.6L827.5,481.8L827.6,481.1L827.7,480.3L827.9,479.6L828.0,478.8L828.2,478.1L828.4,477.3L828.6,476.6L828.8,475.8L829.0,475.1L829.2,474.3L829.4,473.6L829.6,472.8L829.9,472.1L830.2,471.3L830.4,470.6L830.7,469.8L831.1,469.1L831.4,468.3L831.7,467.6L832.0,466.8L832.4,466.1L832.7,465.3L833.0,464.6L833.4,463.8L833.7,463.1L834.1,462.3L834.4,461.6L834.8,460.8L835.2,460.1L835.6,459.3L836.0,458.6L836.5,457.8L836.9,457.1L837.4,456.3L837.8,455.6L838.3,454.8L838.8,454.1L839.3,453.3L839.8,452.6L840.3,451.8L840.9,451.1L841.4,450.3L841.9,449.6L842.5,448.8L843.0,448.1L843.5,447.3L844.1,446.6L844.6,445.8L845.2,445.1L845.7,444.3L846.3,443.6L846.8,442.8L847.4,442.1L848.0,441.3L848.5,440.6L849.1,439.8L849.7,439.1L850.3,438.3L850.8,437.6L851.4,436.8L852.0,436.1L852.6,435.3L853.2,434.6L853.8,433.8L854.4,433.1L855.0,432.3L855.6,431.6L856.2,430.8L856.7,430.1L857.2,429.3L857.7,428.6L858.2,427.8L858.6,427.1L859.1,426.3L859.5,425.6L859.9,424.8L860.3,424.1L860.6,423.3L860.9,422.6L861.1,421.8L861.3,421.1L861.5,420.3L861.7,419.6L861.8,418.8L861.9,418.1L862.0,417.3L862.0,416.6L862.0,415.8L862.1,415.1L862.1,414.3L862.1,413.6L862.1,412.8L862.1,412.1L862.1,411.3L862.0,410.6L862.0,409.8L861.9,409.1L861.8,408.3L861.7,407.6L861.6,406.8L861.5,406.1L861.4,405.3L861.2,404.6L861.0,403.8L860.9,403.1L860.7,402.3L860.4,401.6L860.2,400.8L860.0,400.1L859.7,399.3L859.5,398.6L859.2,397.8L858.9,397.1L858.6,396.3L858.4,395.6L858.1,394.8L857.8,394.1L857.5,393.3L857.1,392.6L856.8,391.8L856.5,391.1L856.2,390.3L855.9,389.6L855.6,388.8L855.3,388.1L855.0,387.3L854.7,386.6L854.5,385.8L854.3,385.1L854.1,384.3L853.9,383.6L853.8,382.8L853.6,382.1L853.5,381.3L853.3,380.6L853.2,379.8L853.1,379.1L853.0,378.3L852.9,377.6L852.8,376.8L852.7,376.1L852.6,375.3L852.5,374.6L852.4,373.8L852.3,373.1L852.3,372.3L852.2,371.6L852.2,370.8L852.1,370.1L852.1,369.3L852.0,368.6L852.0,367.8L851.9,367.1L851.9,366.3L851.8,365.6L851.8,364.8L851.7,364.1L851.6,363.3L851.5,362.6L851.4,361.8L851.3,361.1L851.2,360.3L851.1,359.6L851.0,358.8L850.9,358.1L850.7,357.3L850.6,356.6L850.5,355.8L850.3,355.1L850.2,354.3L850.0,353.6L849.9,352.8L849.7,352.1L849.5,351.3L849.3,350.6L849.1,349.8L848.9,349.1L848.7,348.3L848.5,347.6L848.2,346.8L847.9,346.1L847.7,345.3L847.4,344.6L847.1,343.8L846.7,343.1L846.4,342.3L846.0,341.6L845.7,340.8L845.3,340.1L845.0,339.3L844.7,338.6L844.3,337.8L844.0,337.1L843.7,336.3L843.4,335.6L843.0,334.8L842.7,334.1L842.3,333.3L842.0,332.6L841.6,331.8L841.2,331.1L840.8,330.3L840.5,329.6L840.1,328.8L839.7,328.1L839.3,327.3L838.9,326.6L838.4,325.8L838.0,325.1L837.6,324.3L837.2,323.6L836.8,322.8L836.4,322.1L836.0,321.3L835.6,320.6L835.2,319.8L834.9,319.1L834.5,318.3L834.2,317.6L833.9,316.8L833.6,316.1L833.3,315.3L833.0,314.6L832.7,313.8L832.4,313.1L832.1,312.3L831.8,311.6L831.6,310.8L831.3,310.1L831.1,309.3L830.8,308.6L830.6,307.8L830.4,307.1L830.2,306.3L830.0,305.6L829.9,304.8L829.7,304.1L829.6,303.3L829.4,302.6L829.3,301.8L829.2,301.1L829.1,300.3L829.0,299.6L829.0,298.8L828.9,298.1L828.8,297.3L828.8,296.6L828.8,295.8L828.7,295.1L828.7,294.3L828.7,293.6L828.7,292.8L828.7,292.1L828.7,291.3L828.7,290.6L828.7,289.8L828.7,289.1L828.7,288.3L828.7,287.6L828.8,286.8L828.8,286.1L828.8,285.3L828.9,284.6L829.0,283.8L829.0,283.1L829.1,282.3L829.2,281.6L829.3,280.8L829.4,280.1L829.5,279.3L829.6,278.6L829.7,277.8L829.9,277.1L830.0,276.3L830.2,275.6L830.3,274.8L830.5,274.1L830.7,273.3L830.8,272.6L831.0,271.8L831.2,271.1L831.4,270.3L831.6,269.6L831.8,268.8L832.1,268.1L832.3,267.3L832.5,266.6L832.7,265.8L832.9,265.1L833.2,264.3L833.4,263.6L833.6,262.8L833.9,262.1L834.1,261.3L834.3,260.6L834.6,259.8L834.8,259.1L835.0,258.3L835.2,257.6L835.4,256.8L835.6,256.1L835.8,255.3L835.9,254.6L836.1,253.8L836.2,253.1L836.3,252.3L836.4,251.6L836.5,250.8L836.6,250.1L836.7,249.3L836.8,248.6L836.9,247.8L837.0,247.1L837.1,246.3L837.2,245.6L837.2,244.8L837.3,244.1L837.4,243.3L837.4,242.6L837.5,241.8L837.5,241.1L837.5,240.3L837.6,239.6L837.6,238.8L837.6,238.1L837.6,237.3L837.6,236.6L837.5,235.8L837.5,235.1L837.5,234.3L837.4,233.6L837.4,232.8L837.4,232.1L837.3,231.3L837.2,230.6L837.2,229.8L837.1,229.1L837.0,228.3L836.9,227.6L836.8,226.8L836.7,226.1L836.6,225.3L836.5,224.6L836.4,223.8L836.2,223.1L836.1,222.3L835.9,221.6L835.7,220.8L835.5,220.1L835.3,219.3L835.1,218.6L834.9,217.8L834.7,217.1L834.5,216.3L834.2,215.6L834.0,214.8L833.8,214.1L833.5,213.3L833.3,212.6L833.1,211.8L832.9,211.1L832.6,210.3L832.4,209.6L832.2,208.8L832.0,208.1L831.8,207.3L831.6,206.6L831.3,205.8L831.1,205.1L830.9,204.3L830.7,203.6L830.5,202.8L830.3,202.1L830.1,201.3L829.9,200.6L829.7,199.8L829.5,199.1L829.3,198.3L829.1,197.6L828.9,196.8L828.7,196.1L828.5,195.3L828.4,194.6L828.2,193.8L828.0,193.1L827.9,192.3L827.7,191.6L827.6,190.8L827.5,190.1L827.4,189.3L827.3,188.6L827.2,187.8L827.1,187.1L827.0,186.3L826.9,185.6L826.8,184.8L826.8,184.1L826.7,183.3L826.7,182.6L826.6,181.8L826.6,181.1L826.5,180.3L826.5,179.6L826.5,178.8L826.5,178.1L826.5,177.3L826.5,176.6L826.5,175.8L826.5,175.1L826.5,174.3L826.5,173.6L826.5,172.8Z" fill="#323232" fill-opacity="1" stroke="#000000" stroke-width="0.9" stroke-linejoin="round"/>
<clipPath id="cvB1"><use href="#vB1"/></clipPath>
<line x1="816.90" y1="320.30" x2="836.5" y2="320.30" clip-path="url(#cvB1)" stroke="#000" stroke-width="2.6" stroke-linecap="round" stroke-dasharray="0 7.165"/>
<line x1="797.80" y1="386.45" x2="853.9" y2="386.45" clip-path="url(#cvB1)" stroke="#000" stroke-width="2.6" stroke-linecap="round" stroke-dasharray="4.40 7.55"/>
<line x1="790.70" y1="419.05" x2="862.8" y2="419.05" clip-path="url(#cvB1)" stroke="#000" stroke-width="2.6" stroke-linecap="round" stroke-dasharray="0 7.165"/>
<path id="vB2" d="M936.8,391.3L936.5,391.5L936.1,391.8L935.7,392.0L935.2,392.3L934.7,392.5L934.2,392.8L933.7,393.0L933.2,393.3L932.7,393.5L932.3,393.8L931.8,394.0L931.3,394.3L930.7,394.5L930.0,394.8L929.2,395.0L928.4,395.3L927.4,395.5L926.5,395.8L925.4,396.0L924.3,396.3L923.2,396.5L921.9,396.8L920.6,397.0L919.3,397.3L918.0,397.5L916.6,397.8L915.2,398.0L913.8,398.3L912.4,398.5L911.0,398.8L909.6,399.0L908.2,399.3L906.9,399.5L905.6,399.8L904.4,400.0L903.2,400.3L902.3,400.5L901.5,400.8L901.0,401.0L901.0,401.3L901.6,401.5L902.5,401.8L903.6,402.0L904.5,402.3L905.2,402.5L905.8,402.8L906.3,403.0L906.9,403.3L907.4,403.5L908.0,403.8L908.5,404.0L909.0,404.3L909.5,404.5L910.1,404.8L910.7,405.0L911.3,405.3L912.1,405.5L912.8,405.8L913.4,406.0L913.7,406.3L913.7,406.5L913.4,406.8L912.8,407.0L912.1,407.3L911.3,407.5L910.7,407.8L910.1,408.0L909.5,408.3L909.0,408.5L908.5,408.8L907.9,409.0L907.4,409.3L906.8,409.5L906.3,409.8L905.8,410.0L905.1,410.3L904.4,410.5L903.5,410.8L902.5,411.0L901.6,411.3L901.0,411.5L901.0,411.8L901.5,412.0L902.3,412.3L903.3,412.5L904.4,412.8L905.7,413.0L907.0,413.3L908.3,413.5L909.7,413.8L911.0,414.0L912.4,414.3L913.8,414.5L915.3,414.8L916.7,415.0L918.0,415.3L919.4,415.5L920.7,415.8L922.0,416.0L923.2,416.3L924.4,416.5L925.5,416.8L926.5,417.0L927.5,417.3L928.4,417.5L929.3,417.8L930.0,418.0L930.7,418.3L931.3,418.5L931.8,418.8L932.3,419.0L932.8,419.3L933.2,419.5L933.7,419.8L934.2,420.0L934.7,420.3L935.2,420.5L935.7,420.8L936.1,421.0L936.5,421.3L936.8,421.5L936.8,421.5L937.1,421.3L937.5,421.0L937.9,420.8L938.4,420.5L938.9,420.3L939.4,420.0L939.9,419.8L940.4,419.5L940.8,419.3L941.3,419.0L941.8,418.8L942.3,418.5L942.9,418.3L943.6,418.0L944.3,417.8L945.2,417.5L946.1,417.3L947.1,417.0L948.1,416.8L949.2,416.5L950.4,416.3L951.6,416.0L952.9,415.8L954.2,415.5L955.6,415.3L956.9,415.0L958.3,414.8L959.8,414.5L961.2,414.3L962.6,414.0L963.9,413.8L965.3,413.5L966.6,413.3L967.9,413.0L969.2,412.8L970.3,412.5L971.3,412.3L972.1,412.0L972.6,411.8L972.6,411.5L972.0,411.3L971.1,411.0L970.1,410.8L969.2,410.5L968.5,410.3L967.8,410.0L967.3,409.8L966.8,409.5L966.2,409.3L965.7,409.0L965.1,408.8L964.6,408.5L964.1,408.3L963.5,408.0L962.9,407.8L962.3,407.5L961.5,407.3L960.8,407.0L960.2,406.8L959.9,406.5L959.9,406.3L960.2,406.0L960.8,405.8L961.5,405.5L962.3,405.3L962.9,405.0L963.5,404.8L964.1,404.5L964.6,404.3L965.1,404.0L965.6,403.8L966.2,403.5L966.7,403.3L967.3,403.0L967.8,402.8L968.4,402.5L969.1,402.3L970.0,402.0L971.1,401.8L972.0,401.5L972.6,401.3L972.6,401.0L972.1,400.8L971.3,400.5L970.4,400.3L969.2,400.0L968.0,399.8L966.7,399.5L965.4,399.3L964.0,399.0L962.6,398.8L961.2,398.5L959.8,398.3L958.4,398.0L957.0,397.8L955.6,397.5L954.3,397.3L953.0,397.0L951.7,396.8L950.4,396.5L949.3,396.3L948.2,396.0L947.1,395.8L946.2,395.5L945.2,395.3L944.4,395.0L943.6,394.8L942.9,394.5L942.3,394.3L941.8,394.0L941.3,393.8L940.9,393.5L940.4,393.3L939.9,393.0L939.4,392.8L938.9,392.5L938.4,392.3L937.9,392.0L937.5,391.8L937.1,391.5L936.8,391.3Z" fill="#ff0000" fill-opacity="1"/>
<clipPath id="cvB2"><use href="#vB2"/></clipPath>
<line x1="900.60" y1="401.20" x2="973.2" y2="401.20" clip-path="url(#cvB2)" stroke="#000" stroke-width="2.6" stroke-linecap="round" stroke-dasharray="0 7.165"/>
<line x1="915.10" y1="406.50" x2="958.6" y2="406.50" clip-path="url(#cvB2)" stroke="#000" stroke-width="2.6" stroke-linecap="round" stroke-dasharray="4.40 7.55"/>
<line x1="900.60" y1="411.50" x2="973.1" y2="411.50" clip-path="url(#cvB2)" stroke="#000" stroke-width="2.6" stroke-linecap="round" stroke-dasharray="0 7.165"/>
<path id="vB3" d="M1047.3,288.2L1047.0,288.9L1047.0,289.7L1047.0,290.4L1046.9,291.2L1046.8,291.9L1046.6,292.7L1046.5,293.4L1046.4,294.2L1046.3,294.9L1046.1,295.7L1045.9,296.4L1045.7,297.2L1045.5,297.9L1045.2,298.7L1044.8,299.4L1044.4,300.2L1044.0,300.9L1043.5,301.7L1043.0,302.4L1042.5,303.2L1041.9,303.9L1041.3,304.7L1040.7,305.4L1040.1,306.2L1039.4,306.9L1038.7,307.7L1037.9,308.4L1037.1,309.2L1036.4,309.9L1035.6,310.7L1034.9,311.4L1034.1,312.2L1033.5,312.9L1032.8,313.7L1032.2,314.4L1031.6,315.2L1031.1,315.9L1030.5,316.7L1030.0,317.4L1029.6,318.2L1029.1,318.9L1028.8,319.7L1028.4,320.4L1028.1,321.2L1027.8,321.9L1027.6,322.7L1027.3,323.4L1027.1,324.2L1026.9,324.9L1026.8,325.7L1026.7,326.4L1026.6,327.2L1026.5,327.9L1026.4,328.7L1026.4,329.4L1026.3,330.2L1026.3,330.9L1026.3,331.7L1026.3,332.4L1026.4,333.2L1026.4,333.9L1026.5,334.7L1026.7,335.4L1026.9,336.2L1027.1,336.9L1027.3,337.7L1027.6,338.4L1027.9,339.2L1028.2,339.9L1028.5,340.7L1028.8,341.4L1029.2,342.2L1029.6,342.9L1030.0,343.7L1030.4,344.4L1030.8,345.2L1031.2,345.9L1031.6,346.7L1032.1,347.4L1032.6,348.2L1033.0,348.9L1033.5,349.7L1034.0,350.4L1034.4,351.2L1034.9,351.9L1035.3,352.7L1035.7,353.4L1036.1,354.2L1036.5,354.9L1036.8,355.7L1037.1,356.4L1037.5,357.2L1037.7,357.9L1038.0,358.7L1038.3,359.4L1038.5,360.2L1038.7,360.9L1038.9,361.7L1039.0,362.4L1039.2,363.2L1039.3,363.9L1039.5,364.7L1039.6,365.4L1039.7,366.2L1039.7,366.9L1039.8,367.7L1039.9,368.4L1039.9,369.2L1039.9,369.9L1039.8,370.7L1039.8,371.4L1039.6,372.2L1039.5,372.9L1039.3,373.7L1039.1,374.4L1038.8,375.2L1038.5,375.9L1038.2,376.7L1037.8,377.4L1037.4,378.2L1036.9,378.9L1036.3,379.7L1035.7,380.4L1035.0,381.2L1034.4,381.9L1033.7,382.7L1033.0,383.4L1032.3,384.2L1031.6,384.9L1030.8,385.7L1030.1,386.4L1029.3,387.2L1028.6,387.9L1027.8,388.7L1027.1,389.4L1026.4,390.2L1025.8,390.9L1025.2,391.7L1024.5,392.4L1023.9,393.2L1023.3,393.9L1022.7,394.7L1022.1,395.4L1021.5,396.2L1020.9,396.9L1020.2,397.7L1019.5,398.4L1018.8,399.2L1018.1,399.9L1017.3,400.7L1016.6,401.4L1015.9,402.2L1015.3,402.9L1014.8,403.7L1014.3,404.4L1013.8,405.2L1013.4,405.9L1013.0,406.7L1012.7,407.4L1012.4,408.2L1012.1,408.9L1011.9,409.7L1011.7,410.4L1011.5,411.2L1011.4,411.9L1011.3,412.7L1011.3,413.4L1011.4,414.2L1011.6,414.9L1011.8,415.7L1012.0,416.4L1012.3,417.2L1012.7,417.9L1013.1,418.7L1013.6,419.4L1014.2,420.2L1014.8,420.9L1015.5,421.7L1016.2,422.4L1017.0,423.2L1017.8,423.9L1018.6,424.7L1019.4,425.4L1020.3,426.2L1021.1,426.9L1022.1,427.7L1023.0,428.4L1023.9,429.2L1024.9,429.9L1025.8,430.7L1026.8,431.4L1027.7,432.2L1028.7,432.9L1029.6,433.7L1030.6,434.4L1031.5,435.2L1032.5,435.9L1033.4,436.7L1034.4,437.4L1035.4,438.2L1036.3,438.9L1037.3,439.7L1038.2,440.4L1039.0,441.2L1039.8,441.9L1040.5,442.7L1041.2,443.4L1041.8,444.2L1042.4,444.9L1042.9,445.7L1043.4,446.4L1043.9,447.2L1044.3,447.9L1044.6,448.7L1044.9,449.4L1045.2,450.2L1045.4,450.9L1045.6,451.7L1045.8,452.4L1046.0,453.2L1046.1,453.9L1046.3,454.7L1046.5,455.4L1046.6,456.2L1046.8,456.9L1046.9,457.7L1047.0,458.4L1047.0,459.2L1047.3,459.6L1047.3,459.6L1047.6,459.2L1047.6,458.4L1047.8,457.7L1047.9,456.9L1048.1,456.2L1048.2,455.4L1048.4,454.7L1048.6,453.9L1048.7,453.2L1048.9,452.4L1049.1,451.7L1049.3,450.9L1049.5,450.2L1049.8,449.4L1050.1,448.7L1050.4,447.9L1050.8,447.2L1051.3,446.4L1051.8,445.7L1052.3,444.9L1052.9,444.2L1053.5,443.4L1054.2,442.7L1054.9,441.9L1055.7,441.2L1056.5,440.4L1057.4,439.7L1058.4,438.9L1059.3,438.2L1060.3,437.4L1061.3,436.7L1062.2,435.9L1063.2,435.2L1064.1,434.4L1065.1,433.7L1066.0,432.9L1067.0,432.2L1067.9,431.4L1068.9,430.7L1069.8,429.9L1070.8,429.2L1071.7,428.4L1072.6,427.7L1073.6,426.9L1074.4,426.2L1075.3,425.4L1076.1,424.7L1076.9,423.9L1077.7,423.2L1078.5,422.4L1079.2,421.7L1079.9,420.9L1080.5,420.2L1081.1,419.4L1081.6,418.7L1082.0,417.9L1082.4,417.2L1082.7,416.4L1082.9,415.7L1083.1,414.9L1083.3,414.2L1083.4,413.4L1083.4,412.7L1083.3,411.9L1083.2,411.2L1083.0,410.4L1082.8,409.7L1082.6,408.9L1082.3,408.2L1082.0,407.4L1081.7,406.7L1081.3,405.9L1080.9,405.2L1080.4,404.4L1079.9,403.7L1079.4,402.9L1078.8,402.2L1078.1,401.4L1077.4,400.7L1076.6,399.9L1075.9,399.2L1075.2,398.4L1074.5,397.7L1073.8,396.9L1073.2,396.2L1072.6,395.4L1072.0,394.7L1071.4,393.9L1070.8,393.2L1070.2,392.4L1069.5,391.7L1068.9,390.9L1068.3,390.2L1067.6,389.4L1066.9,388.7L1066.1,387.9L1065.4,387.2L1064.6,386.4L1063.9,385.7L1063.1,384.9L1062.4,384.2L1061.7,383.4L1061.0,382.7L1060.3,381.9L1059.7,381.2L1059.0,380.4L1058.4,379.7L1057.8,378.9L1057.3,378.2L1056.9,377.4L1056.5,376.7L1056.2,375.9L1055.9,375.2L1055.6,374.4L1055.4,373.7L1055.2,372.9L1055.1,372.2L1054.9,371.4L1054.9,370.7L1054.8,369.9L1054.8,369.2L1054.8,368.4L1054.9,367.7L1055.0,366.9L1055.0,366.2L1055.1,365.4L1055.2,364.7L1055.4,363.9L1055.5,363.2L1055.7,362.4L1055.8,361.7L1056.0,360.9L1056.2,360.2L1056.4,359.4L1056.7,358.7L1057.0,357.9L1057.2,357.2L1057.6,356.4L1057.9,355.7L1058.2,354.9L1058.6,354.2L1059.0,353.4L1059.4,352.7L1059.8,351.9L1060.3,351.2L1060.7,350.4L1061.2,349.7L1061.7,348.9L1062.1,348.2L1062.6,347.4L1063.1,346.7L1063.5,345.9L1063.9,345.2L1064.3,344.4L1064.7,343.7L1065.1,342.9L1065.5,342.2L1065.9,341.4L1066.2,340.7L1066.5,339.9L1066.8,339.2L1067.1,338.4L1067.4,337.7L1067.6,336.9L1067.8,336.2L1068.0,335.4L1068.2,334.7L1068.3,333.9L1068.3,333.2L1068.4,332.4L1068.4,331.7L1068.4,330.9L1068.4,330.2L1068.3,329.4L1068.3,328.7L1068.2,327.9L1068.1,327.2L1068.0,326.4L1067.9,325.7L1067.8,324.9L1067.6,324.2L1067.4,323.4L1067.1,322.7L1066.9,321.9L1066.6,321.2L1066.3,320.4L1065.9,319.7L1065.6,318.9L1065.1,318.2L1064.7,317.4L1064.2,316.7L1063.6,315.9L1063.1,315.2L1062.5,314.4L1061.9,313.7L1061.2,312.9L1060.6,312.2L1059.8,311.4L1059.1,310.7L1058.3,309.9L1057.6,309.2L1056.8,308.4L1056.0,307.7L1055.3,306.9L1054.6,306.2L1054.0,305.4L1053.4,304.7L1052.8,303.9L1052.2,303.2L1051.7,302.4L1051.2,301.7L1050.7,300.9L1050.3,300.2L1049.9,299.4L1049.5,298.7L1049.2,297.9L1049.0,297.2L1048.8,296.4L1048.6,295.7L1048.4,294.9L1048.3,294.2L1048.2,293.4L1048.1,292.7L1047.9,291.9L1047.8,291.2L1047.7,290.4L1047.6,289.7L1047.6,288.9L1047.3,288.2Z" fill="#0000ff" fill-opacity="0.75"/>
<clipPath id="cvB3"><use href="#vB3"/></clipPath>
<line x1="1026.10" y1="334.00" x2="1068.9" y2="334.00" clip-path="url(#cvB3)" stroke="#000" stroke-width="2.6" stroke-linecap="round" stroke-dasharray="0 7.165"/>
<line x1="1020.25" y1="398.50" x2="1073.9" y2="398.50" clip-path="url(#cvB3)" stroke="#000" stroke-width="2.6" stroke-linecap="round" stroke-dasharray="4.40 7.55"/>
<line x1="1012.70" y1="417.90" x2="1082.7" y2="417.90" clip-path="url(#cvB3)" stroke="#000" stroke-width="2.6" stroke-linecap="round" stroke-dasharray="0 7.165"/>
<path id="vB4" d="M1157.8,252.9L1157.5,253.7L1157.5,254.4L1157.5,255.2L1157.4,255.9L1157.3,256.6L1157.2,257.4L1157.1,258.1L1157.0,258.9L1156.9,259.6L1156.8,260.4L1156.6,261.1L1156.5,261.9L1156.2,262.6L1155.9,263.4L1155.5,264.1L1155.0,264.9L1154.5,265.6L1154.0,266.4L1153.5,267.1L1152.9,267.9L1152.4,268.6L1151.8,269.4L1151.2,270.1L1150.6,270.9L1150.1,271.6L1149.5,272.4L1148.9,273.1L1148.4,273.9L1147.8,274.6L1147.3,275.4L1146.7,276.1L1146.3,276.9L1145.9,277.6L1145.5,278.4L1145.1,279.1L1144.8,279.9L1144.5,280.6L1144.3,281.4L1144.0,282.1L1143.8,282.9L1143.6,283.6L1143.4,284.4L1143.3,285.1L1143.1,285.9L1143.0,286.6L1142.9,287.4L1142.9,288.1L1142.9,288.9L1142.9,289.6L1143.1,290.4L1143.2,291.1L1143.5,291.9L1143.7,292.6L1144.0,293.4L1144.3,294.1L1144.6,294.9L1145.0,295.6L1145.5,296.4L1145.9,297.1L1146.3,297.9L1146.8,298.6L1147.3,299.4L1147.7,300.1L1148.2,300.9L1148.8,301.6L1149.3,302.4L1149.8,303.1L1150.3,303.9L1150.8,304.6L1151.3,305.4L1151.7,306.1L1152.1,306.9L1152.5,307.6L1152.8,308.4L1153.1,309.1L1153.3,309.9L1153.5,310.6L1153.6,311.4L1153.7,312.1L1153.8,312.9L1153.8,313.6L1153.8,314.4L1153.8,315.1L1153.6,315.9L1153.5,316.6L1153.3,317.4L1153.0,318.1L1152.7,318.9L1152.3,319.6L1151.8,320.4L1151.2,321.1L1150.6,321.9L1150.0,322.6L1149.2,323.4L1148.4,324.1L1147.5,324.9L1146.5,325.6L1145.5,326.4L1144.4,327.1L1143.3,327.9L1142.1,328.6L1141.0,329.4L1139.9,330.1L1138.8,330.9L1137.7,331.6L1136.6,332.4L1135.6,333.1L1134.5,333.9L1133.4,334.6L1132.4,335.4L1131.3,336.1L1130.2,336.9L1129.2,337.6L1128.2,338.4L1127.3,339.1L1126.4,339.9L1125.6,340.6L1124.9,341.4L1124.2,342.1L1123.6,342.9L1123.0,343.6L1122.6,344.4L1122.3,345.1L1122.1,345.9L1121.9,346.6L1121.7,347.4L1121.6,348.1L1121.6,348.9L1121.6,349.6L1121.7,350.4L1121.8,351.1L1122.0,351.9L1122.2,352.6L1122.4,353.4L1122.6,354.1L1122.9,354.9L1123.3,355.6L1123.8,356.4L1124.3,357.1L1124.9,357.9L1125.5,358.6L1126.2,359.4L1126.9,360.1L1127.7,360.9L1128.5,361.6L1129.3,362.4L1130.1,363.1L1131.0,363.9L1131.8,364.6L1132.7,365.4L1133.6,366.1L1134.4,366.9L1135.3,367.6L1136.3,368.4L1137.2,369.1L1138.1,369.9L1139.0,370.6L1139.9,371.4L1140.8,372.1L1141.8,372.9L1142.7,373.6L1143.7,374.4L1144.6,375.1L1145.5,375.9L1146.4,376.6L1147.2,377.4L1148.0,378.1L1148.7,378.9L1149.4,379.6L1150.1,380.4L1150.8,381.1L1151.4,381.9L1152.0,382.6L1152.6,383.4L1153.1,384.1L1153.5,384.9L1153.9,385.6L1154.3,386.4L1154.6,387.1L1155.0,387.9L1155.3,388.6L1155.6,389.4L1155.8,390.1L1156.1,390.9L1156.3,391.6L1156.5,392.4L1156.7,393.1L1156.9,393.9L1157.1,394.6L1157.2,395.4L1157.4,396.1L1157.5,396.9L1157.5,397.6L1157.8,398.4L1157.8,398.4L1158.1,397.6L1158.1,396.9L1158.3,396.1L1158.5,395.4L1158.6,394.6L1158.8,393.9L1159.0,393.1L1159.2,392.4L1159.4,391.6L1159.6,390.9L1159.9,390.1L1160.1,389.4L1160.4,388.6L1160.7,387.9L1161.1,387.1L1161.4,386.4L1161.8,385.6L1162.2,384.9L1162.6,384.1L1163.1,383.4L1163.7,382.6L1164.3,381.9L1164.9,381.1L1165.6,380.4L1166.3,379.6L1167.0,378.9L1167.7,378.1L1168.5,377.4L1169.3,376.6L1170.2,375.9L1171.1,375.1L1172.0,374.4L1173.0,373.6L1173.9,372.9L1174.9,372.1L1175.8,371.4L1176.7,370.6L1177.6,369.9L1178.5,369.1L1179.4,368.4L1180.4,367.6L1181.3,366.9L1182.1,366.1L1183.0,365.4L1183.9,364.6L1184.7,363.9L1185.6,363.1L1186.4,362.4L1187.2,361.6L1188.0,360.9L1188.8,360.1L1189.5,359.4L1190.2,358.6L1190.8,357.9L1191.4,357.1L1191.9,356.4L1192.4,355.6L1192.8,354.9L1193.1,354.1L1193.3,353.4L1193.5,352.6L1193.7,351.9L1193.9,351.1L1194.0,350.4L1194.1,349.6L1194.1,348.9L1194.1,348.1L1194.0,347.4L1193.8,346.6L1193.6,345.9L1193.4,345.1L1193.1,344.4L1192.7,343.6L1192.1,342.9L1191.5,342.1L1190.8,341.4L1190.1,340.6L1189.3,339.9L1188.4,339.1L1187.5,338.4L1186.5,337.6L1185.5,336.9L1184.4,336.1L1183.3,335.4L1182.3,334.6L1181.2,333.9L1180.1,333.1L1179.1,332.4L1178.0,331.6L1176.9,330.9L1175.8,330.1L1174.7,329.4L1173.6,328.6L1172.4,327.9L1171.3,327.1L1170.2,326.4L1169.2,325.6L1168.2,324.9L1167.3,324.1L1166.5,323.4L1165.7,322.6L1165.1,321.9L1164.5,321.1L1163.9,320.4L1163.4,319.6L1163.0,318.9L1162.7,318.1L1162.4,317.4L1162.2,316.6L1162.1,315.9L1161.9,315.1L1161.9,314.4L1161.9,313.6L1161.9,312.9L1162.0,312.1L1162.1,311.4L1162.2,310.6L1162.4,309.9L1162.6,309.1L1162.9,308.4L1163.2,307.6L1163.6,306.9L1164.0,306.1L1164.4,305.4L1164.9,304.6L1165.4,303.9L1165.9,303.1L1166.4,302.4L1166.9,301.6L1167.5,300.9L1168.0,300.1L1168.4,299.4L1168.9,298.6L1169.4,297.9L1169.8,297.1L1170.2,296.4L1170.7,295.6L1171.1,294.9L1171.4,294.1L1171.7,293.4L1172.0,292.6L1172.2,291.9L1172.5,291.1L1172.6,290.4L1172.8,289.6L1172.8,288.9L1172.8,288.1L1172.8,287.4L1172.7,286.6L1172.6,285.9L1172.4,285.1L1172.3,284.4L1172.1,283.6L1171.9,282.9L1171.7,282.1L1171.4,281.4L1171.2,280.6L1170.9,279.9L1170.6,279.1L1170.2,278.4L1169.8,277.6L1169.4,276.9L1169.0,276.1L1168.4,275.4L1167.9,274.6L1167.3,273.9L1166.8,273.1L1166.2,272.4L1165.6,271.6L1165.1,270.9L1164.5,270.1L1163.9,269.4L1163.3,268.6L1162.8,267.9L1162.2,267.1L1161.7,266.4L1161.2,265.6L1160.7,264.9L1160.2,264.1L1159.8,263.4L1159.5,262.6L1159.2,261.9L1159.1,261.1L1158.9,260.4L1158.8,259.6L1158.7,258.9L1158.6,258.1L1158.5,257.4L1158.4,256.6L1158.3,255.9L1158.2,255.2L1158.1,254.4L1158.1,253.7L1157.8,252.9Z" fill="#539dff" fill-opacity="1"/>
<clipPath id="cvB4"><use href="#vB4"/></clipPath>
<line x1="1149.15" y1="302.00" x2="1167.3" y2="302.00" clip-path="url(#cvB4)" stroke="#000" stroke-width="2.6" stroke-linecap="round" stroke-dasharray="0 7.165"/>
<line x1="1122.70" y1="345.00" x2="1192.0" y2="345.00" clip-path="url(#cvB4)" stroke="#000" stroke-width="2.6" stroke-linecap="round" stroke-dasharray="4.40 7.55"/>
<line x1="1127.20" y1="359.75" x2="1189.8" y2="359.75" clip-path="url(#cvB4)" stroke="#000" stroke-width="2.6" stroke-linecap="round" stroke-dasharray="0 7.165"/>
<path d="M753.2,65.15V548.15" stroke="#000" stroke-width="4.9" fill="none"/>
<path d="M750.75,545.80H1234.1" stroke="#000" stroke-width="4.7" fill="none"/>
<path d="M732.70,67.50H753.2" stroke="#000" stroke-width="4.7" fill="none"/>
<text transform="translate(727.9,80.2) scale(0.955,1)" font-size="37.4" font-weight="bold" text-anchor="end">6</text>
<path d="M732.70,187.07H753.2" stroke="#000" stroke-width="4.7" fill="none"/>
<text transform="translate(727.9,199.8) scale(0.955,1)" font-size="37.4" font-weight="bold" text-anchor="end">4</text>
<path d="M732.70,306.65H753.2" stroke="#000" stroke-width="4.7" fill="none"/>
<text transform="translate(727.9,319.3) scale(0.955,1)" font-size="37.4" font-weight="bold" text-anchor="end">2</text>
<path d="M732.70,426.22H753.2" stroke="#000" stroke-width="4.7" fill="none"/>
<text transform="translate(727.9,438.9) scale(0.955,1)" font-size="37.4" font-weight="bold" text-anchor="end">0</text>
<path d="M732.70,545.80H753.2" stroke="#000" stroke-width="4.7" fill="none"/>
<text transform="translate(727.9,558.5) scale(0.955,1)" font-size="37.4" font-weight="bold" text-anchor="end">-2</text>
<path d="M826.1,545.8V566.30" stroke="#000" stroke-width="4.9" fill="none"/>
<text transform="translate(839.5,596.4) rotate(-45)" font-size="36.7" font-weight="bold" text-anchor="end">SCS</text>
<path d="M936.6,545.8V566.30" stroke="#000" stroke-width="4.9" fill="none"/>
<text transform="translate(950.0,596.4) rotate(-45)" font-size="36.7" font-weight="bold" text-anchor="end">4-hour</text>
<path d="M1047.1,545.8V566.30" stroke="#000" stroke-width="4.9" fill="none"/>
<text transform="translate(1060.5,596.4) rotate(-45)" font-size="36.7" font-weight="bold" text-anchor="end">6-hour</text>
<path d="M1157.6,545.8V566.30" stroke="#000" stroke-width="4.9" fill="none"/>
<text transform="translate(1171.0,596.4) rotate(-45)" font-size="36.7" font-weight="bold" text-anchor="end">8-hour</text>
<text transform="translate(992.8,81.4)" font-size="46.7" font-weight="bold" text-anchor="middle" clip-path="url(#toneB)">IL-1β</text>
<text transform="translate(670.0,306.0) rotate(-90)" font-size="39.7" font-weight="bold" text-anchor="middle">Fold Change</text>
<text x="667.3" y="32.4" font-size="42.3" font-weight="bold">B</text>
</g>
<g id="legend">
<rect x="1288.8" y="156.8" width="49.9" height="24.1" fill="#323232" stroke="#000" stroke-width="0.9"/>
<text x="1366.9" y="181.9" font-size="40.3">SCS</text>
<rect x="1288.3" y="220.0" width="50.8" height="25" fill="#ff0000"/>
<text x="1366.9" y="245.6" font-size="40.3">4 hours</text>
<rect x="1288.3" y="283.9" width="50.8" height="25" fill="#4040ff"/>
<text x="1366.9" y="309.5" font-size="40.3">6 hours</text>
<rect x="1288.3" y="347.7" width="50.8" height="25" fill="#539dff"/>
<text x="1366.9" y="373.3" font-size="40.3">8 hours</text>
</g>
</svg>
</body>
</html>
